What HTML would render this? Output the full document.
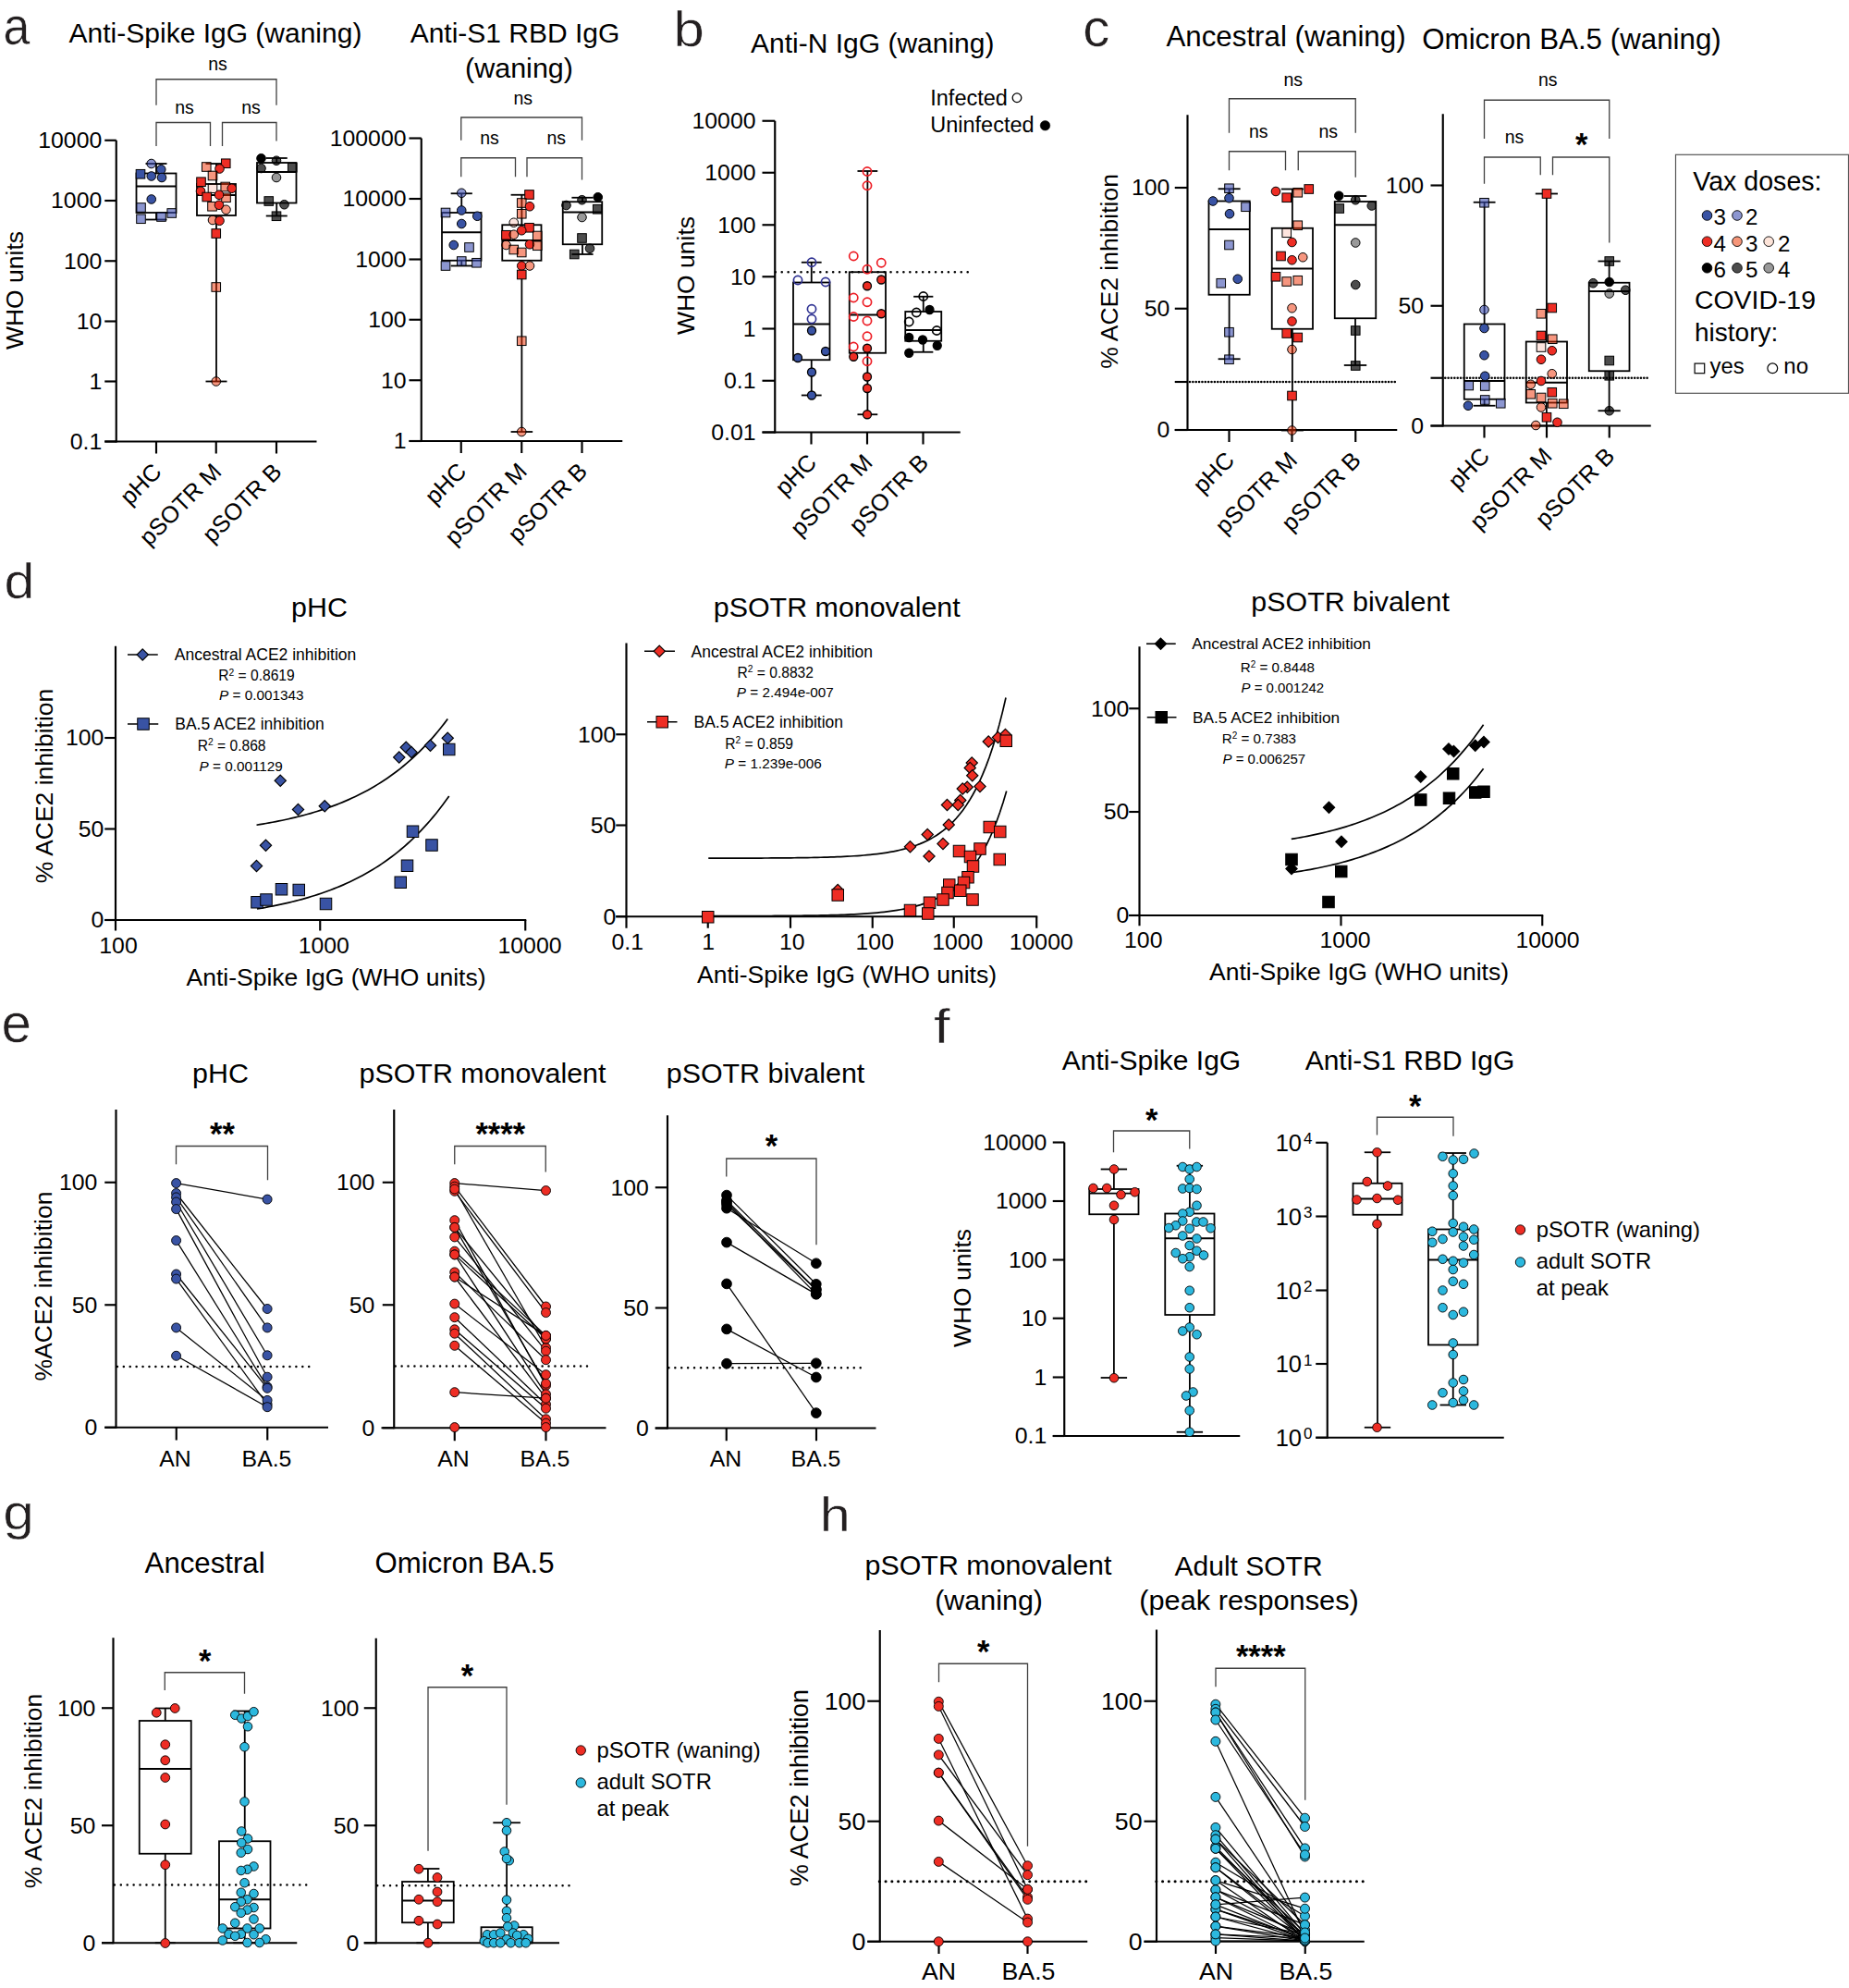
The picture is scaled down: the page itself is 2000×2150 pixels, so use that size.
<!DOCTYPE html>
<html><head><meta charset="utf-8"><title>Figure</title>
<style>
html,body{margin:0;padding:0;background:#fff;}
svg{display:block;}
text{font-family:"Liberation Sans",Arial,Helvetica,sans-serif;fill:#000;}
</style></head><body>
<svg width="2000" height="2150" viewBox="0 0 2000 2150">
<rect x="0" y="0" width="2000" height="2150" fill="#fff"/>
<text transform="translate(3.4 48) scale(0.95 1.04)" font-size="54.5" stroke="#fff" stroke-width="0.5" style="fill:#231f20">a</text>
<text transform="translate(728.6 50.2) scale(1.1 0.97)" font-size="54.5" stroke="#fff" stroke-width="0.5" style="fill:#231f20">b</text>
<text transform="translate(1171.2 49.6) scale(1.07 1.04)" font-size="54.5" stroke="#fff" stroke-width="0.5" style="fill:#231f20">c</text>
<text transform="translate(4.4 646.6) scale(1.08 0.99)" font-size="54.5" stroke="#fff" stroke-width="0.5" style="fill:#231f20">d</text>
<text transform="translate(1.5 1127.1) scale(1.07 1.07)" font-size="54.5" stroke="#fff" stroke-width="0.5" style="fill:#231f20">e</text>
<text transform="translate(1010 1127.6) scale(1.17 0.96)" font-size="54.5" stroke="#fff" stroke-width="0.5" style="fill:#231f20">f</text>
<text transform="translate(3.2 1654.3) scale(1.11 0.97)" font-size="54.5" stroke="#fff" stroke-width="0.5" style="fill:#231f20">g</text>
<text transform="translate(886.8 1656.4) scale(1.09 0.96)" font-size="54.5" stroke="#fff" stroke-width="0.5" style="fill:#231f20">h</text>
<text x="233" y="45.75" text-anchor="middle" font-size="30">Anti-Spike IgG (waning)</text>
<line x1="125.75" y1="151.75" x2="125.75" y2="478.57" stroke="#000" stroke-width="2.15"/>
<line x1="113.25" y1="151.75" x2="125.75" y2="151.75" stroke="#000" stroke-width="2.15"/>
<text x="110.25" y="160.06" text-anchor="end" font-size="24.8">10000</text>
<line x1="113.25" y1="217" x2="125.75" y2="217" stroke="#000" stroke-width="2.15"/>
<text x="110.25" y="225.31" text-anchor="end" font-size="24.8">1000</text>
<line x1="113.25" y1="282.25" x2="125.75" y2="282.25" stroke="#000" stroke-width="2.15"/>
<text x="110.25" y="290.56" text-anchor="end" font-size="24.8">100</text>
<line x1="113.25" y1="347.5" x2="125.75" y2="347.5" stroke="#000" stroke-width="2.15"/>
<text x="110.25" y="355.81" text-anchor="end" font-size="24.8">10</text>
<line x1="113.25" y1="412.5" x2="125.75" y2="412.5" stroke="#000" stroke-width="2.15"/>
<text x="110.25" y="420.81" text-anchor="end" font-size="24.8">1</text>
<line x1="113.25" y1="477.5" x2="125.75" y2="477.5" stroke="#000" stroke-width="2.15"/>
<text x="110.25" y="485.81" text-anchor="end" font-size="24.8">0.1</text>
<line x1="113.25" y1="477.5" x2="342.5" y2="477.5" stroke="#000" stroke-width="2.15"/>
<line x1="169" y1="477.5" x2="169" y2="490.5" stroke="#000" stroke-width="2.15"/>
<line x1="233.75" y1="477.5" x2="233.75" y2="490.5" stroke="#000" stroke-width="2.15"/>
<line x1="299" y1="477.5" x2="299" y2="490.5" stroke="#000" stroke-width="2.15"/>
<text text-anchor="end" transform="translate(176.3 511.7) rotate(-45)" font-size="25.4">pHC</text>
<text text-anchor="end" transform="translate(241.05 511.7) rotate(-45)" font-size="25.4">pSOTR M</text>
<text text-anchor="end" transform="translate(306.3 511.7) rotate(-45)" font-size="25.4">pSOTR B</text>
<text text-anchor="middle" transform="translate(24.5 314) rotate(-90)" font-size="26.5">WHO units</text>
<path d="M169 113.75V85.75H299V113.75" fill="none" stroke="#404040" stroke-width="1.3"/>
<text x="235.5" y="75.8" text-anchor="middle" font-size="19.5">ns</text>
<path d="M169 158V132.5H227.5V158" fill="none" stroke="#404040" stroke-width="1.3"/>
<text x="199.5" y="122.55" text-anchor="middle" font-size="19.5">ns</text>
<path d="M240.5 158V132.5H299V152.5" fill="none" stroke="#404040" stroke-width="1.3"/>
<text x="271.5" y="122.55" text-anchor="middle" font-size="19.5">ns</text>
<line x1="169" y1="177" x2="169" y2="187.5" stroke="#000" stroke-width="1.8"/>
<line x1="169" y1="230" x2="169" y2="237.5" stroke="#000" stroke-width="1.8"/>
<line x1="157.5" y1="177" x2="180.5" y2="177" stroke="#000" stroke-width="1.8"/>
<line x1="157.5" y1="237.5" x2="180.5" y2="237.5" stroke="#000" stroke-width="1.8"/>
<rect x="147.5" y="187.5" width="43" height="42.5" fill="none" stroke="#000" stroke-width="1.8"/>
<line x1="147.5" y1="201.5" x2="190.5" y2="201.5" stroke="#000" stroke-width="1.8"/>
<line x1="234" y1="177" x2="234" y2="199" stroke="#000" stroke-width="1.8"/>
<line x1="234" y1="233" x2="234" y2="412.5" stroke="#000" stroke-width="1.8"/>
<line x1="222.5" y1="177" x2="245.5" y2="177" stroke="#000" stroke-width="1.8"/>
<line x1="222.5" y1="412.5" x2="245.5" y2="412.5" stroke="#000" stroke-width="1.8"/>
<rect x="213" y="199" width="42" height="34" fill="none" stroke="#000" stroke-width="1.8"/>
<line x1="213" y1="211" x2="255" y2="211" stroke="#000" stroke-width="1.8"/>
<line x1="299.25" y1="171" x2="299.25" y2="176" stroke="#000" stroke-width="1.8"/>
<line x1="299.25" y1="219.5" x2="299.25" y2="233.5" stroke="#000" stroke-width="1.8"/>
<line x1="287.75" y1="171" x2="310.75" y2="171" stroke="#000" stroke-width="1.8"/>
<line x1="287.75" y1="233.5" x2="310.75" y2="233.5" stroke="#000" stroke-width="1.8"/>
<rect x="278" y="176" width="42.5" height="43.5" fill="none" stroke="#000" stroke-width="1.8"/>
<line x1="278" y1="186" x2="320.5" y2="186" stroke="#000" stroke-width="1.8"/>
<circle cx="163.75" cy="177" r="4.8" fill="#394aae" fill-opacity="0.58" stroke="#000" stroke-width="1"/>
<circle cx="174.25" cy="183.25" r="4.8" fill="#3953a4" fill-opacity="1" stroke="#000" stroke-width="1"/>
<rect x="147.2" y="183.45" width="9.6" height="9.6" fill="#3953a4" fill-opacity="1" stroke="#000" stroke-width="1"/>
<circle cx="163.75" cy="190.5" r="4.8" fill="#3953a4" fill-opacity="1" stroke="#000" stroke-width="1"/>
<circle cx="175" cy="192" r="4.8" fill="#3953a4" fill-opacity="1" stroke="#000" stroke-width="1"/>
<circle cx="163.75" cy="215.5" r="4.8" fill="#3953a4" fill-opacity="1" stroke="#000" stroke-width="1"/>
<rect x="147.7" y="219.7" width="9.6" height="9.6" fill="#394aae" fill-opacity="0.58" stroke="#000" stroke-width="1"/>
<rect x="180.95" y="225.7" width="9.6" height="9.6" fill="#394aae" fill-opacity="0.58" stroke="#000" stroke-width="1"/>
<rect x="147.7" y="231.95" width="9.6" height="9.6" fill="#394aae" fill-opacity="0.58" stroke="#000" stroke-width="1"/>
<rect x="169.7" y="229.7" width="9.6" height="9.6" fill="#394aae" fill-opacity="0.58" stroke="#000" stroke-width="1"/>
<rect x="218.45" y="175.7" width="9.6" height="9.6" fill="#ed2d00" fill-opacity="0.5" stroke="#000" stroke-width="1"/>
<rect x="239.45" y="171.95" width="9.6" height="9.6" fill="#ee2d24" fill-opacity="1" stroke="#000" stroke-width="1"/>
<circle cx="237.5" cy="182.5" r="4.8" fill="#ee2d24" fill-opacity="1" stroke="#000" stroke-width="1"/>
<rect x="225.2" y="185.2" width="9.6" height="9.6" fill="#ed2d00" fill-opacity="0.5" stroke="#000" stroke-width="1"/>
<rect x="212.7" y="191.95" width="9.6" height="9.6" fill="#ee2d24" fill-opacity="1" stroke="#000" stroke-width="1"/>
<rect x="238.95" y="197.2" width="9.6" height="9.6" fill="#ed2d00" fill-opacity="0.5" stroke="#000" stroke-width="1"/>
<rect x="225.2" y="198.95" width="9.6" height="9.6" fill="#f02f00" fill-opacity="0.13" stroke="#000" stroke-width="1"/>
<circle cx="250.75" cy="203.75" r="4.8" fill="#ee2d24" fill-opacity="1" stroke="#000" stroke-width="1"/>
<circle cx="217" cy="206.75" r="4.8" fill="#ee2d24" fill-opacity="1" stroke="#000" stroke-width="1"/>
<rect x="239.7" y="208.95" width="9.6" height="9.6" fill="#ed2d00" fill-opacity="0.5" stroke="#000" stroke-width="1"/>
<circle cx="237" cy="210.75" r="4.8" fill="#ee2d24" fill-opacity="1" stroke="#000" stroke-width="1"/>
<rect x="218.95" y="208.2" width="9.6" height="9.6" fill="#ee2d24" fill-opacity="1" stroke="#000" stroke-width="1"/>
<rect x="224.7" y="218.45" width="9.6" height="9.6" fill="#ed2d00" fill-opacity="0.5" stroke="#000" stroke-width="1"/>
<circle cx="237" cy="221.75" r="4.8" fill="#ee2d24" fill-opacity="1" stroke="#000" stroke-width="1"/>
<circle cx="244.5" cy="226.75" r="4.8" fill="#ed2d00" fill-opacity="0.5" stroke="#000" stroke-width="1"/>
<circle cx="230" cy="238" r="4.8" fill="#ed2d00" fill-opacity="0.5" stroke="#000" stroke-width="1"/>
<circle cx="237.5" cy="238.75" r="4.8" fill="#ee2d24" fill-opacity="1" stroke="#000" stroke-width="1"/>
<rect x="228.95" y="247.7" width="9.6" height="9.6" fill="#ee2d24" fill-opacity="1" stroke="#000" stroke-width="1"/>
<rect x="228.95" y="305.7" width="9.6" height="9.6" fill="#ed2d00" fill-opacity="0.5" stroke="#000" stroke-width="1"/>
<circle cx="233.75" cy="412.5" r="4.8" fill="#ed2d00" fill-opacity="0.5" stroke="#000" stroke-width="1"/>
<circle cx="282.5" cy="171.25" r="4.8" fill="#000000" fill-opacity="1" stroke="#000" stroke-width="1"/>
<circle cx="299" cy="173.75" r="4.8" fill="#010101" fill-opacity="0.7" stroke="#000" stroke-width="1"/>
<circle cx="282.5" cy="182" r="4.8" fill="#010101" fill-opacity="0.7" stroke="#000" stroke-width="1"/>
<rect x="311.45" y="176.45" width="9.6" height="9.6" fill="#010101" fill-opacity="0.7" stroke="#000" stroke-width="1"/>
<circle cx="299" cy="192" r="4.8" fill="#000000" fill-opacity="0.4" stroke="#000" stroke-width="1"/>
<rect x="285.95" y="212.7" width="9.6" height="9.6" fill="#010101" fill-opacity="0.7" stroke="#000" stroke-width="1"/>
<circle cx="307.5" cy="221.25" r="4.8" fill="#010101" fill-opacity="0.7" stroke="#000" stroke-width="1"/>
<rect x="294.2" y="228.95" width="9.6" height="9.6" fill="#010101" fill-opacity="0.7" stroke="#000" stroke-width="1"/>
<text x="557" y="45.75" text-anchor="middle" font-size="30">Anti-S1 RBD IgG</text>
<text x="561.5" y="83.75" text-anchor="middle" textLength="117" lengthAdjust="spacingAndGlyphs" font-size="30">(waning)</text>
<line x1="455.75" y1="149.5" x2="455.75" y2="478.07" stroke="#000" stroke-width="2.15"/>
<line x1="442.5" y1="149.5" x2="455.75" y2="149.5" stroke="#000" stroke-width="2.15"/>
<text x="439.5" y="157.81" text-anchor="end" font-size="24.8">100000</text>
<line x1="442.5" y1="215" x2="455.75" y2="215" stroke="#000" stroke-width="2.15"/>
<text x="439.5" y="223.31" text-anchor="end" font-size="24.8">10000</text>
<line x1="442.5" y1="280.5" x2="455.75" y2="280.5" stroke="#000" stroke-width="2.15"/>
<text x="439.5" y="288.81" text-anchor="end" font-size="24.8">1000</text>
<line x1="442.5" y1="345.75" x2="455.75" y2="345.75" stroke="#000" stroke-width="2.15"/>
<text x="439.5" y="354.06" text-anchor="end" font-size="24.8">100</text>
<line x1="442.5" y1="411.25" x2="455.75" y2="411.25" stroke="#000" stroke-width="2.15"/>
<text x="439.5" y="419.56" text-anchor="end" font-size="24.8">10</text>
<line x1="442.5" y1="477" x2="455.75" y2="477" stroke="#000" stroke-width="2.15"/>
<text x="439.5" y="485.31" text-anchor="end" font-size="24.8">1</text>
<line x1="442.5" y1="477" x2="673.25" y2="477" stroke="#000" stroke-width="2.15"/>
<line x1="498.75" y1="477" x2="498.75" y2="490" stroke="#000" stroke-width="2.15"/>
<line x1="564.25" y1="477" x2="564.25" y2="490" stroke="#000" stroke-width="2.15"/>
<line x1="629.5" y1="477" x2="629.5" y2="490" stroke="#000" stroke-width="2.15"/>
<text text-anchor="end" transform="translate(506.05 511.2) rotate(-45)" font-size="25.4">pHC</text>
<text text-anchor="end" transform="translate(571.55 511.2) rotate(-45)" font-size="25.4">pSOTR M</text>
<text text-anchor="end" transform="translate(636.8 511.2) rotate(-45)" font-size="25.4">pSOTR B</text>
<path d="M498.75 151.75V127H629.5V151.75" fill="none" stroke="#404040" stroke-width="1.3"/>
<text x="565.75" y="113.3" text-anchor="middle" font-size="19.5">ns</text>
<path d="M498.75 191.25V170.75H557.5V191.25" fill="none" stroke="#404040" stroke-width="1.3"/>
<text x="529.5" y="156.3" text-anchor="middle" font-size="19.5">ns</text>
<path d="M570 191.25V170.75H629.5V194.5" fill="none" stroke="#404040" stroke-width="1.3"/>
<text x="601.75" y="156.3" text-anchor="middle" font-size="19.5">ns</text>
<line x1="499.25" y1="209.25" x2="499.25" y2="230" stroke="#000" stroke-width="1.8"/>
<line x1="499.25" y1="281.75" x2="499.25" y2="287.5" stroke="#000" stroke-width="1.8"/>
<line x1="487.65" y1="209.25" x2="510.85" y2="209.25" stroke="#000" stroke-width="1.8"/>
<line x1="487.65" y1="287.5" x2="510.85" y2="287.5" stroke="#000" stroke-width="1.8"/>
<rect x="478" y="230" width="42.5" height="51.75" fill="none" stroke="#000" stroke-width="1.8"/>
<line x1="478" y1="251.25" x2="520.5" y2="251.25" stroke="#000" stroke-width="1.8"/>
<line x1="564.38" y1="210.75" x2="564.38" y2="243.25" stroke="#000" stroke-width="1.8"/>
<line x1="564.38" y1="281.75" x2="564.38" y2="467" stroke="#000" stroke-width="1.8"/>
<line x1="552.58" y1="210.75" x2="576.17" y2="210.75" stroke="#000" stroke-width="1.8"/>
<line x1="552.58" y1="467" x2="576.17" y2="467" stroke="#000" stroke-width="1.8"/>
<rect x="543.25" y="243.25" width="42.25" height="38.5" fill="none" stroke="#000" stroke-width="1.8"/>
<line x1="543.25" y1="260" x2="585.5" y2="260" stroke="#000" stroke-width="1.8"/>
<line x1="630" y1="213.75" x2="630" y2="218.25" stroke="#000" stroke-width="1.8"/>
<line x1="630" y1="264.25" x2="630" y2="275" stroke="#000" stroke-width="1.8"/>
<line x1="618.4" y1="213.75" x2="641.6" y2="213.75" stroke="#000" stroke-width="1.8"/>
<line x1="618.4" y1="275" x2="641.6" y2="275" stroke="#000" stroke-width="1.8"/>
<rect x="608.75" y="218.25" width="42.5" height="46" fill="none" stroke="#000" stroke-width="1.8"/>
<line x1="608.75" y1="229.5" x2="651.25" y2="229.5" stroke="#000" stroke-width="1.8"/>
<circle cx="499.25" cy="208.75" r="4.8" fill="#394aae" fill-opacity="0.58" stroke="#000" stroke-width="1"/>
<rect x="477.2" y="225.2" width="9.6" height="9.6" fill="#394aae" fill-opacity="0.58" stroke="#000" stroke-width="1"/>
<circle cx="499.25" cy="227.5" r="4.8" fill="#3953a4" fill-opacity="1" stroke="#000" stroke-width="1"/>
<circle cx="516.25" cy="233.75" r="4.8" fill="#3953a4" fill-opacity="1" stroke="#000" stroke-width="1"/>
<circle cx="499.25" cy="242" r="4.8" fill="#3953a4" fill-opacity="1" stroke="#000" stroke-width="1"/>
<circle cx="490.75" cy="265" r="4.8" fill="#3953a4" fill-opacity="1" stroke="#000" stroke-width="1"/>
<rect x="502.7" y="262.7" width="9.6" height="9.6" fill="#394aae" fill-opacity="0.58" stroke="#000" stroke-width="1"/>
<rect x="494.45" y="277.7" width="9.6" height="9.6" fill="#394aae" fill-opacity="0.58" stroke="#000" stroke-width="1"/>
<rect x="510.7" y="279.45" width="9.6" height="9.6" fill="#394aae" fill-opacity="0.58" stroke="#000" stroke-width="1"/>
<rect x="477.2" y="282.7" width="9.6" height="9.6" fill="#394aae" fill-opacity="0.58" stroke="#000" stroke-width="1"/>
<rect x="567.7" y="205.7" width="9.6" height="9.6" fill="#ee2d24" fill-opacity="1" stroke="#000" stroke-width="1"/>
<rect x="559.45" y="214.7" width="9.6" height="9.6" fill="#ed2d00" fill-opacity="0.5" stroke="#000" stroke-width="1"/>
<circle cx="573" cy="223.25" r="4.8" fill="#ee2d24" fill-opacity="1" stroke="#000" stroke-width="1"/>
<rect x="559.45" y="226.45" width="9.6" height="9.6" fill="#ed2d00" fill-opacity="0.5" stroke="#000" stroke-width="1"/>
<circle cx="555.75" cy="240.75" r="4.8" fill="#f02f00" fill-opacity="0.13" stroke="#000" stroke-width="1"/>
<rect x="567.7" y="241.45" width="9.6" height="9.6" fill="#ee2d24" fill-opacity="1" stroke="#000" stroke-width="1"/>
<circle cx="564.25" cy="249.25" r="4.8" fill="#ee2d24" fill-opacity="1" stroke="#000" stroke-width="1"/>
<rect x="542.7" y="249.45" width="9.6" height="9.6" fill="#ee2d24" fill-opacity="1" stroke="#000" stroke-width="1"/>
<circle cx="555.75" cy="253.75" r="4.8" fill="#ed2d00" fill-opacity="0.5" stroke="#000" stroke-width="1"/>
<rect x="576.45" y="250.2" width="9.6" height="9.6" fill="#ed2d00" fill-opacity="0.5" stroke="#000" stroke-width="1"/>
<circle cx="547.5" cy="265" r="4.8" fill="#ed2d00" fill-opacity="0.5" stroke="#000" stroke-width="1"/>
<circle cx="573" cy="264.25" r="4.8" fill="#ee2d24" fill-opacity="1" stroke="#000" stroke-width="1"/>
<rect x="576.45" y="260.95" width="9.6" height="9.6" fill="#ed2d00" fill-opacity="0.5" stroke="#000" stroke-width="1"/>
<rect x="550.95" y="265.2" width="9.6" height="9.6" fill="#ed2d00" fill-opacity="0.5" stroke="#000" stroke-width="1"/>
<rect x="559.45" y="268.2" width="9.6" height="9.6" fill="#ed2d00" fill-opacity="0.5" stroke="#000" stroke-width="1"/>
<circle cx="564.25" cy="287.5" r="4.8" fill="#ee2d24" fill-opacity="1" stroke="#000" stroke-width="1"/>
<circle cx="573" cy="287.5" r="4.8" fill="#ed2d00" fill-opacity="0.5" stroke="#000" stroke-width="1"/>
<rect x="559.45" y="292.2" width="9.6" height="9.6" fill="#ee2d24" fill-opacity="1" stroke="#000" stroke-width="1"/>
<rect x="559.45" y="363.95" width="9.6" height="9.6" fill="#ed2d00" fill-opacity="0.5" stroke="#000" stroke-width="1"/>
<circle cx="564.25" cy="467" r="4.8" fill="#ed2d00" fill-opacity="0.5" stroke="#000" stroke-width="1"/>
<circle cx="646.75" cy="213.25" r="4.8" fill="#000000" fill-opacity="1" stroke="#000" stroke-width="1"/>
<circle cx="629.5" cy="216.25" r="4.8" fill="#010101" fill-opacity="0.7" stroke="#000" stroke-width="1"/>
<circle cx="612.5" cy="222" r="4.8" fill="#010101" fill-opacity="0.7" stroke="#000" stroke-width="1"/>
<rect x="641.45" y="221.45" width="9.6" height="9.6" fill="#010101" fill-opacity="0.7" stroke="#000" stroke-width="1"/>
<circle cx="629.5" cy="235" r="4.8" fill="#000000" fill-opacity="0.4" stroke="#000" stroke-width="1"/>
<rect x="624.7" y="252.7" width="9.6" height="9.6" fill="#010101" fill-opacity="0.7" stroke="#000" stroke-width="1"/>
<circle cx="638" cy="268.75" r="4.8" fill="#010101" fill-opacity="0.7" stroke="#000" stroke-width="1"/>
<rect x="616.45" y="270.2" width="9.6" height="9.6" fill="#010101" fill-opacity="0.7" stroke="#000" stroke-width="1"/>
<text x="943.75" y="57" text-anchor="middle" font-size="30">Anti-N IgG (waning)</text>
<line x1="838.25" y1="130.75" x2="838.25" y2="468.57" stroke="#000" stroke-width="2.15"/>
<line x1="824.5" y1="130.75" x2="838.25" y2="130.75" stroke="#000" stroke-width="2.15"/>
<text x="817.5" y="139.06" text-anchor="end" font-size="24.8">10000</text>
<line x1="824.5" y1="186.75" x2="838.25" y2="186.75" stroke="#000" stroke-width="2.15"/>
<text x="817.5" y="195.06" text-anchor="end" font-size="24.8">1000</text>
<line x1="824.5" y1="243.25" x2="838.25" y2="243.25" stroke="#000" stroke-width="2.15"/>
<text x="817.5" y="251.56" text-anchor="end" font-size="24.8">100</text>
<line x1="824.5" y1="299.25" x2="838.25" y2="299.25" stroke="#000" stroke-width="2.15"/>
<text x="817.5" y="307.56" text-anchor="end" font-size="24.8">10</text>
<line x1="824.5" y1="355.5" x2="838.25" y2="355.5" stroke="#000" stroke-width="2.15"/>
<text x="817.5" y="363.81" text-anchor="end" font-size="24.8">1</text>
<line x1="824.5" y1="411.75" x2="838.25" y2="411.75" stroke="#000" stroke-width="2.15"/>
<text x="817.5" y="420.06" text-anchor="end" font-size="24.8">0.1</text>
<line x1="824.5" y1="467.5" x2="838.25" y2="467.5" stroke="#000" stroke-width="2.15"/>
<text x="817.5" y="475.81" text-anchor="end" font-size="24.8">0.01</text>
<line x1="824.5" y1="467.5" x2="1038.75" y2="467.5" stroke="#000" stroke-width="2.15"/>
<line x1="877.5" y1="467.5" x2="877.5" y2="480.5" stroke="#000" stroke-width="2.15"/>
<line x1="938" y1="467.5" x2="938" y2="480.5" stroke="#000" stroke-width="2.15"/>
<line x1="998.5" y1="467.5" x2="998.5" y2="480.5" stroke="#000" stroke-width="2.15"/>
<text text-anchor="end" transform="translate(884.8 501.7) rotate(-45)" font-size="25.4">pHC</text>
<text text-anchor="end" transform="translate(945.3 501.7) rotate(-45)" font-size="25.4">pSOTR M</text>
<text text-anchor="end" transform="translate(1005.8 501.7) rotate(-45)" font-size="25.4">pSOTR B</text>
<text text-anchor="middle" transform="translate(750.5 298) rotate(-90)" font-size="26.5">WHO units</text>
<line x1="838.8" y1="294.25" x2="1047" y2="294.25" stroke="#000" stroke-width="2.6" stroke-linecap="round" stroke-dasharray="0.01 6.92"/>
<text x="1006.25" y="113.75" font-size="23.5">Infected</text>
<circle cx="1100" cy="105.75" r="4.8" fill="#fff" stroke="#000" stroke-width="1.3"/>
<text x="1006.25" y="142.5" font-size="23.5">Uninfected</text>
<circle cx="1130.5" cy="135.75" r="5.3" fill="#000" stroke="#000" stroke-width="0.5"/>
<line x1="877.75" y1="283.75" x2="877.75" y2="305.5" stroke="#000" stroke-width="1.8"/>
<line x1="877.75" y1="389.25" x2="877.75" y2="427.5" stroke="#000" stroke-width="1.8"/>
<line x1="866.85" y1="283.75" x2="888.65" y2="283.75" stroke="#000" stroke-width="1.8"/>
<line x1="866.85" y1="427.5" x2="888.65" y2="427.5" stroke="#000" stroke-width="1.8"/>
<rect x="858" y="305.5" width="39.5" height="83.75" fill="none" stroke="#000" stroke-width="1.8"/>
<line x1="858" y1="350.5" x2="897.5" y2="350.5" stroke="#000" stroke-width="1.8"/>
<line x1="938.38" y1="185" x2="938.38" y2="294.25" stroke="#000" stroke-width="1.8"/>
<line x1="938.38" y1="381.75" x2="938.38" y2="448.25" stroke="#000" stroke-width="1.8"/>
<line x1="927.48" y1="185" x2="949.27" y2="185" stroke="#000" stroke-width="1.8"/>
<line x1="927.48" y1="448.25" x2="949.27" y2="448.25" stroke="#000" stroke-width="1.8"/>
<rect x="918.75" y="294.25" width="39.25" height="87.5" fill="none" stroke="#000" stroke-width="1.8"/>
<line x1="918.75" y1="340.5" x2="958" y2="340.5" stroke="#000" stroke-width="1.8"/>
<line x1="998.75" y1="320.75" x2="998.75" y2="337" stroke="#000" stroke-width="1.8"/>
<line x1="998.75" y1="368.75" x2="998.75" y2="380.75" stroke="#000" stroke-width="1.8"/>
<line x1="988.15" y1="320.75" x2="1009.35" y2="320.75" stroke="#000" stroke-width="1.8"/>
<line x1="988.15" y1="380.75" x2="1009.35" y2="380.75" stroke="#000" stroke-width="1.8"/>
<rect x="979.25" y="337" width="39" height="31.75" fill="none" stroke="#000" stroke-width="1.8"/>
<line x1="979.25" y1="357" x2="1018.25" y2="357" stroke="#000" stroke-width="1.8"/>
<circle cx="878" cy="283.75" r="4.6" fill="none" stroke="#2e3192" stroke-width="1.7"/>
<circle cx="863" cy="303" r="4.6" fill="none" stroke="#2e3192" stroke-width="1.7"/>
<circle cx="893" cy="305" r="4.6" fill="none" stroke="#2e3192" stroke-width="1.7"/>
<circle cx="878" cy="334.25" r="4.6" fill="none" stroke="#2e3192" stroke-width="1.7"/>
<circle cx="878" cy="345" r="4.6" fill="none" stroke="#2e3192" stroke-width="1.7"/>
<circle cx="878" cy="357.5" r="4.5" fill="#3953a4" stroke="#000" stroke-width="1.3"/>
<circle cx="893" cy="380" r="4.5" fill="#3953a4" stroke="#000" stroke-width="1.3"/>
<circle cx="863" cy="387" r="4.5" fill="#3953a4" stroke="#000" stroke-width="1.3"/>
<circle cx="878" cy="402.5" r="4.5" fill="#3953a4" stroke="#000" stroke-width="1.3"/>
<circle cx="878" cy="427.5" r="4.5" fill="#3953a4" stroke="#000" stroke-width="1.3"/>
<circle cx="938" cy="185.5" r="4.6" fill="none" stroke="#ed1c24" stroke-width="1.7"/>
<circle cx="938" cy="200.75" r="4.6" fill="none" stroke="#ed1c24" stroke-width="1.7"/>
<circle cx="923.25" cy="277" r="4.6" fill="none" stroke="#ed1c24" stroke-width="1.7"/>
<circle cx="953.25" cy="284.25" r="4.6" fill="none" stroke="#ed1c24" stroke-width="1.7"/>
<circle cx="938" cy="291.25" r="4.6" fill="none" stroke="#ed1c24" stroke-width="1.7"/>
<circle cx="953.25" cy="302.5" r="4.5" fill="#ee2d24" stroke="#000" stroke-width="1.3"/>
<circle cx="938" cy="309.25" r="4.5" fill="#ee2d24" stroke="#000" stroke-width="1.3"/>
<circle cx="923.25" cy="322" r="4.6" fill="none" stroke="#ed1c24" stroke-width="1.7"/>
<circle cx="938" cy="326.75" r="4.6" fill="none" stroke="#ed1c24" stroke-width="1.7"/>
<circle cx="953.25" cy="339.25" r="4.5" fill="#ee2d24" stroke="#000" stroke-width="1.3"/>
<circle cx="923.25" cy="342.5" r="4.6" fill="none" stroke="#ed1c24" stroke-width="1.7"/>
<circle cx="938" cy="347" r="4.6" fill="none" stroke="#ed1c24" stroke-width="1.7"/>
<circle cx="938" cy="363.75" r="4.6" fill="none" stroke="#ed1c24" stroke-width="1.7"/>
<circle cx="923.25" cy="375" r="4.6" fill="none" stroke="#ed1c24" stroke-width="1.7"/>
<circle cx="938" cy="376.75" r="4.5" fill="#ee2d24" stroke="#000" stroke-width="1.3"/>
<circle cx="923.25" cy="385.75" r="4.5" fill="#ee2d24" stroke="#000" stroke-width="1.3"/>
<circle cx="938" cy="390.75" r="4.6" fill="none" stroke="#ed1c24" stroke-width="1.7"/>
<circle cx="938" cy="407.5" r="4.5" fill="#ee2d24" stroke="#000" stroke-width="1.3"/>
<circle cx="938" cy="420" r="4.5" fill="#ee2d24" stroke="#000" stroke-width="1.3"/>
<circle cx="938" cy="448.25" r="4.5" fill="#ee2d24" stroke="#000" stroke-width="1.3"/>
<circle cx="998.75" cy="320.5" r="4.6" fill="none" stroke="#000000" stroke-width="1.7"/>
<circle cx="1005.5" cy="335" r="4.5" fill="#000000" stroke="#000" stroke-width="1.3"/>
<circle cx="991.25" cy="338" r="4.6" fill="none" stroke="#000000" stroke-width="1.7"/>
<circle cx="983.25" cy="348" r="4.6" fill="none" stroke="#000000" stroke-width="1.7"/>
<circle cx="1013.25" cy="357.5" r="4.6" fill="none" stroke="#000000" stroke-width="1.7"/>
<circle cx="983.25" cy="365" r="4.5" fill="#000000" stroke="#000" stroke-width="1.3"/>
<circle cx="998" cy="367.5" r="4.5" fill="#000000" stroke="#000" stroke-width="1.3"/>
<circle cx="1013.75" cy="373.75" r="4.5" fill="#000000" stroke="#000" stroke-width="1.3"/>
<circle cx="983.25" cy="381.75" r="4.5" fill="#000000" stroke="#000" stroke-width="1.3"/>
<text x="1391" y="50" text-anchor="middle" font-size="31.3">Ancestral (waning)</text>
<line x1="1284.5" y1="124.25" x2="1284.5" y2="466.07" stroke="#000" stroke-width="2.15"/>
<line x1="1270.75" y1="203" x2="1284.5" y2="203" stroke="#000" stroke-width="2.15"/>
<text x="1265.25" y="211.31" text-anchor="end" font-size="24.8">100</text>
<line x1="1270.75" y1="333.75" x2="1284.5" y2="333.75" stroke="#000" stroke-width="2.15"/>
<text x="1265.25" y="342.06" text-anchor="end" font-size="24.8">50</text>
<line x1="1270.75" y1="465" x2="1284.5" y2="465" stroke="#000" stroke-width="2.15"/>
<text x="1265.25" y="473.31" text-anchor="end" font-size="24.8">0</text>
<line x1="1270.75" y1="413" x2="1284.5" y2="413" stroke="#000" stroke-width="2.15"/>
<line x1="1270.75" y1="465" x2="1511.25" y2="465" stroke="#000" stroke-width="2.15"/>
<line x1="1329.5" y1="465" x2="1329.5" y2="478" stroke="#000" stroke-width="2.15"/>
<line x1="1397.5" y1="465" x2="1397.5" y2="478" stroke="#000" stroke-width="2.15"/>
<line x1="1466.25" y1="465" x2="1466.25" y2="478" stroke="#000" stroke-width="2.15"/>
<text text-anchor="end" transform="translate(1336.8 499.2) rotate(-45)" font-size="25.4">pHC</text>
<text text-anchor="end" transform="translate(1404.8 499.2) rotate(-45)" font-size="25.4">pSOTR M</text>
<text text-anchor="end" transform="translate(1473.55 499.2) rotate(-45)" font-size="25.4">pSOTR B</text>
<text text-anchor="middle" transform="translate(1209 293.4) rotate(-90)" font-size="26.5">% ACE2 inhibition</text>
<line x1="1287" y1="413" x2="1510.5" y2="413" stroke="#000" stroke-width="2.6" stroke-linecap="round" stroke-dasharray="0.01 3.35"/>
<path d="M1329.5 143.75V106.75H1466.25V143.75" fill="none" stroke="#404040" stroke-width="1.3"/>
<text x="1398.75" y="92.55" text-anchor="middle" font-size="19.5">ns</text>
<path d="M1329.5 184.25V163.75H1390.5V184.25" fill="none" stroke="#404040" stroke-width="1.3"/>
<text x="1361.25" y="148.8" text-anchor="middle" font-size="19.5">ns</text>
<path d="M1404.25 184.25V163.75H1466.25V191.75" fill="none" stroke="#404040" stroke-width="1.3"/>
<text x="1436.75" y="148.8" text-anchor="middle" font-size="19.5">ns</text>
<line x1="1329.62" y1="204.25" x2="1329.62" y2="217.5" stroke="#000" stroke-width="1.8"/>
<line x1="1329.62" y1="318.75" x2="1329.62" y2="388.25" stroke="#000" stroke-width="1.8"/>
<line x1="1317.62" y1="204.25" x2="1341.62" y2="204.25" stroke="#000" stroke-width="1.8"/>
<line x1="1317.62" y1="388.25" x2="1341.62" y2="388.25" stroke="#000" stroke-width="1.8"/>
<rect x="1307.5" y="217.5" width="44.25" height="101.25" fill="none" stroke="#000" stroke-width="1.8"/>
<line x1="1307.5" y1="248" x2="1351.75" y2="248" stroke="#000" stroke-width="1.8"/>
<line x1="1397.88" y1="204.5" x2="1397.88" y2="246.75" stroke="#000" stroke-width="1.8"/>
<line x1="1397.88" y1="355.75" x2="1397.88" y2="465.5" stroke="#000" stroke-width="1.8"/>
<line x1="1385.88" y1="204.5" x2="1409.88" y2="204.5" stroke="#000" stroke-width="1.8"/>
<line x1="1385.88" y1="465.5" x2="1409.88" y2="465.5" stroke="#000" stroke-width="1.8"/>
<rect x="1375.75" y="246.75" width="44.25" height="109" fill="none" stroke="#000" stroke-width="1.8"/>
<line x1="1375.75" y1="290.5" x2="1420" y2="290.5" stroke="#000" stroke-width="1.8"/>
<line x1="1466" y1="212" x2="1466" y2="218" stroke="#000" stroke-width="1.8"/>
<line x1="1466" y1="344.25" x2="1466" y2="395" stroke="#000" stroke-width="1.8"/>
<line x1="1453.8" y1="212" x2="1478.2" y2="212" stroke="#000" stroke-width="1.8"/>
<line x1="1453.8" y1="395" x2="1478.2" y2="395" stroke="#000" stroke-width="1.8"/>
<rect x="1443.75" y="218" width="44.5" height="126.25" fill="none" stroke="#000" stroke-width="1.8"/>
<line x1="1443.75" y1="243.25" x2="1488.25" y2="243.25" stroke="#000" stroke-width="1.8"/>
<rect x="1324.7" y="198.95" width="9.6" height="9.6" fill="#394aae" fill-opacity="0.58" stroke="#000" stroke-width="1"/>
<circle cx="1312" cy="217.5" r="4.8" fill="#3953a4" fill-opacity="1" stroke="#000" stroke-width="1"/>
<circle cx="1329.5" cy="214.25" r="4.8" fill="#3953a4" fill-opacity="1" stroke="#000" stroke-width="1"/>
<rect x="1342.7" y="218.95" width="9.6" height="9.6" fill="#394aae" fill-opacity="0.58" stroke="#000" stroke-width="1"/>
<circle cx="1330" cy="231.25" r="4.8" fill="#3953a4" fill-opacity="1" stroke="#000" stroke-width="1"/>
<rect x="1324.7" y="260.2" width="9.6" height="9.6" fill="#394aae" fill-opacity="0.58" stroke="#000" stroke-width="1"/>
<circle cx="1338.75" cy="301.75" r="4.8" fill="#3953a4" fill-opacity="1" stroke="#000" stroke-width="1"/>
<rect x="1315.95" y="301.45" width="9.6" height="9.6" fill="#394aae" fill-opacity="0.58" stroke="#000" stroke-width="1"/>
<rect x="1324.7" y="354.45" width="9.6" height="9.6" fill="#394aae" fill-opacity="0.58" stroke="#000" stroke-width="1"/>
<rect x="1324.7" y="383.95" width="9.6" height="9.6" fill="#394aae" fill-opacity="0.58" stroke="#000" stroke-width="1"/>
<circle cx="1380" cy="207" r="4.8" fill="#ee2d24" fill-opacity="1" stroke="#000" stroke-width="1"/>
<rect x="1410.95" y="199.7" width="9.6" height="9.6" fill="#ee2d24" fill-opacity="1" stroke="#000" stroke-width="1"/>
<rect x="1398.95" y="203.45" width="9.6" height="9.6" fill="#ed2d00" fill-opacity="0.5" stroke="#000" stroke-width="1"/>
<rect x="1386.95" y="208.95" width="9.6" height="9.6" fill="#ee2d24" fill-opacity="1" stroke="#000" stroke-width="1"/>
<rect x="1398.95" y="238.95" width="9.6" height="9.6" fill="#ed2d00" fill-opacity="0.5" stroke="#000" stroke-width="1"/>
<rect x="1386.95" y="246.95" width="9.6" height="9.6" fill="#f02f00" fill-opacity="0.13" stroke="#000" stroke-width="1"/>
<circle cx="1397.5" cy="262" r="4.8" fill="#ee2d24" fill-opacity="1" stroke="#000" stroke-width="1"/>
<rect x="1380.7" y="272.2" width="9.6" height="9.6" fill="#ee2d24" fill-opacity="1" stroke="#000" stroke-width="1"/>
<circle cx="1409.25" cy="278.25" r="4.8" fill="#ed2d00" fill-opacity="0.5" stroke="#000" stroke-width="1"/>
<circle cx="1397.5" cy="281.25" r="4.8" fill="#ee2d24" fill-opacity="1" stroke="#000" stroke-width="1"/>
<rect x="1375.2" y="294.45" width="9.6" height="9.6" fill="#ee2d24" fill-opacity="1" stroke="#000" stroke-width="1"/>
<rect x="1386.95" y="299.7" width="9.6" height="9.6" fill="#ed2d00" fill-opacity="0.5" stroke="#000" stroke-width="1"/>
<rect x="1398.95" y="298.45" width="9.6" height="9.6" fill="#ed2d00" fill-opacity="0.5" stroke="#000" stroke-width="1"/>
<circle cx="1397.5" cy="333.25" r="4.8" fill="#ed2d00" fill-opacity="0.5" stroke="#000" stroke-width="1"/>
<circle cx="1397.5" cy="347.5" r="4.8" fill="#ee2d24" fill-opacity="1" stroke="#000" stroke-width="1"/>
<rect x="1386.95" y="355.7" width="9.6" height="9.6" fill="#ee2d24" fill-opacity="1" stroke="#000" stroke-width="1"/>
<rect x="1398.95" y="360.2" width="9.6" height="9.6" fill="#ee2d24" fill-opacity="1" stroke="#000" stroke-width="1"/>
<circle cx="1397.5" cy="378" r="4.8" fill="#ed2d00" fill-opacity="0.5" stroke="#000" stroke-width="1"/>
<rect x="1392.7" y="423.2" width="9.6" height="9.6" fill="#ee2d24" fill-opacity="1" stroke="#000" stroke-width="1"/>
<circle cx="1397.5" cy="465.5" r="4.8" fill="#ed2d00" fill-opacity="0.5" stroke="#000" stroke-width="1"/>
<circle cx="1448.25" cy="211.75" r="4.8" fill="#000000" fill-opacity="1" stroke="#000" stroke-width="1"/>
<circle cx="1466.25" cy="216.25" r="4.8" fill="#010101" fill-opacity="0.7" stroke="#000" stroke-width="1"/>
<circle cx="1483.75" cy="222.5" r="4.8" fill="#010101" fill-opacity="0.7" stroke="#000" stroke-width="1"/>
<rect x="1443.95" y="220.7" width="9.6" height="9.6" fill="#010101" fill-opacity="0.7" stroke="#000" stroke-width="1"/>
<circle cx="1466.25" cy="262.5" r="4.8" fill="#000000" fill-opacity="0.4" stroke="#000" stroke-width="1"/>
<circle cx="1466.25" cy="308" r="4.8" fill="#010101" fill-opacity="0.7" stroke="#000" stroke-width="1"/>
<rect x="1461.45" y="352.7" width="9.6" height="9.6" fill="#010101" fill-opacity="0.7" stroke="#000" stroke-width="1"/>
<rect x="1461.45" y="390.7" width="9.6" height="9.6" fill="#010101" fill-opacity="0.7" stroke="#000" stroke-width="1"/>
<text x="1700" y="53.25" text-anchor="middle" font-size="31.3">Omicron BA.5 (waning)</text>
<line x1="1560.75" y1="123.25" x2="1560.75" y2="461.57" stroke="#000" stroke-width="2.15"/>
<line x1="1547.5" y1="200.5" x2="1560.75" y2="200.5" stroke="#000" stroke-width="2.15"/>
<text x="1540" y="208.81" text-anchor="end" font-size="24.8">100</text>
<line x1="1547.5" y1="330.75" x2="1560.75" y2="330.75" stroke="#000" stroke-width="2.15"/>
<text x="1540" y="339.06" text-anchor="end" font-size="24.8">50</text>
<line x1="1547.5" y1="460.5" x2="1560.75" y2="460.5" stroke="#000" stroke-width="2.15"/>
<text x="1540" y="468.81" text-anchor="end" font-size="24.8">0</text>
<line x1="1547.5" y1="408.75" x2="1560.75" y2="408.75" stroke="#000" stroke-width="2.15"/>
<line x1="1547.5" y1="460.5" x2="1785.75" y2="460.5" stroke="#000" stroke-width="2.15"/>
<line x1="1605.5" y1="460.5" x2="1605.5" y2="473.5" stroke="#000" stroke-width="2.15"/>
<line x1="1673" y1="460.5" x2="1673" y2="473.5" stroke="#000" stroke-width="2.15"/>
<line x1="1740.75" y1="460.5" x2="1740.75" y2="473.5" stroke="#000" stroke-width="2.15"/>
<text text-anchor="end" transform="translate(1612.8 494.7) rotate(-45)" font-size="25.4">pHC</text>
<text text-anchor="end" transform="translate(1680.3 494.7) rotate(-45)" font-size="25.4">pSOTR M</text>
<text text-anchor="end" transform="translate(1748.05 494.7) rotate(-45)" font-size="25.4">pSOTR B</text>
<line x1="1563.25" y1="408.75" x2="1784.5" y2="408.75" stroke="#000" stroke-width="2.6" stroke-linecap="round" stroke-dasharray="0.01 3.35"/>
<path d="M1605.5 150V108.25H1740.75V150" fill="none" stroke="#404040" stroke-width="1.3"/>
<text x="1674.25" y="93.3" text-anchor="middle" font-size="19.5">ns</text>
<path d="M1605.5 198.75V170H1666.25V189.25" fill="none" stroke="#404040" stroke-width="1.3"/>
<text x="1638" y="155.05" text-anchor="middle" font-size="19.5">ns</text>
<path d="M1679.5 189.25V170H1740.75V262.5" fill="none" stroke="#404040" stroke-width="1.3"/>
<text x="1710.75" y="168.17" text-anchor="middle" font-weight="bold" font-size="34.5">*</text>
<line x1="1605.62" y1="218.75" x2="1605.62" y2="350.5" stroke="#000" stroke-width="1.8"/>
<line x1="1605.62" y1="431.75" x2="1605.62" y2="438.75" stroke="#000" stroke-width="1.8"/>
<line x1="1593.72" y1="218.75" x2="1617.53" y2="218.75" stroke="#000" stroke-width="1.8"/>
<line x1="1593.72" y1="438.75" x2="1617.53" y2="438.75" stroke="#000" stroke-width="1.8"/>
<rect x="1583.75" y="350.5" width="43.75" height="81.25" fill="none" stroke="#000" stroke-width="1.8"/>
<line x1="1583.75" y1="412" x2="1627.5" y2="412" stroke="#000" stroke-width="1.8"/>
<line x1="1672.88" y1="209.5" x2="1672.88" y2="369.5" stroke="#000" stroke-width="1.8"/>
<line x1="1672.88" y1="435.5" x2="1672.88" y2="460.5" stroke="#000" stroke-width="1.8"/>
<line x1="1660.78" y1="209.5" x2="1684.97" y2="209.5" stroke="#000" stroke-width="1.8"/>
<line x1="1660.78" y1="460.5" x2="1684.97" y2="460.5" stroke="#000" stroke-width="1.8"/>
<rect x="1650.75" y="369.5" width="44.25" height="66" fill="none" stroke="#000" stroke-width="1.8"/>
<line x1="1650.75" y1="413.75" x2="1695" y2="413.75" stroke="#000" stroke-width="1.8"/>
<line x1="1740.62" y1="282.5" x2="1740.62" y2="305.75" stroke="#000" stroke-width="1.8"/>
<line x1="1740.62" y1="401.25" x2="1740.62" y2="444.25" stroke="#000" stroke-width="1.8"/>
<line x1="1728.53" y1="282.5" x2="1752.72" y2="282.5" stroke="#000" stroke-width="1.8"/>
<line x1="1728.53" y1="444.25" x2="1752.72" y2="444.25" stroke="#000" stroke-width="1.8"/>
<rect x="1718.75" y="305.75" width="43.75" height="95.5" fill="none" stroke="#000" stroke-width="1.8"/>
<line x1="1718.75" y1="315" x2="1762.5" y2="315" stroke="#000" stroke-width="1.8"/>
<rect x="1600.7" y="214.45" width="9.6" height="9.6" fill="#394aae" fill-opacity="0.58" stroke="#000" stroke-width="1"/>
<circle cx="1605.5" cy="335" r="4.8" fill="#394aae" fill-opacity="0.58" stroke="#000" stroke-width="1"/>
<circle cx="1605.5" cy="355" r="4.8" fill="#3953a4" fill-opacity="1" stroke="#000" stroke-width="1"/>
<circle cx="1605.5" cy="384.25" r="4.8" fill="#3953a4" fill-opacity="1" stroke="#000" stroke-width="1"/>
<circle cx="1606.25" cy="406.75" r="4.8" fill="#3953a4" fill-opacity="1" stroke="#000" stroke-width="1"/>
<rect x="1583.95" y="412.2" width="9.6" height="9.6" fill="#394aae" fill-opacity="0.58" stroke="#000" stroke-width="1"/>
<rect x="1601.45" y="412.7" width="9.6" height="9.6" fill="#394aae" fill-opacity="0.58" stroke="#000" stroke-width="1"/>
<rect x="1601.45" y="427.7" width="9.6" height="9.6" fill="#394aae" fill-opacity="0.58" stroke="#000" stroke-width="1"/>
<rect x="1618.45" y="431.45" width="9.6" height="9.6" fill="#394aae" fill-opacity="0.58" stroke="#000" stroke-width="1"/>
<circle cx="1588" cy="438.75" r="4.8" fill="#3953a4" fill-opacity="1" stroke="#000" stroke-width="1"/>
<rect x="1668.2" y="204.7" width="9.6" height="9.6" fill="#ee2d24" fill-opacity="1" stroke="#000" stroke-width="1"/>
<rect x="1673.95" y="328.2" width="9.6" height="9.6" fill="#ee2d24" fill-opacity="1" stroke="#000" stroke-width="1"/>
<rect x="1662.2" y="334.45" width="9.6" height="9.6" fill="#ed2d00" fill-opacity="0.5" stroke="#000" stroke-width="1"/>
<rect x="1662.2" y="358.2" width="9.6" height="9.6" fill="#ee2d24" fill-opacity="1" stroke="#000" stroke-width="1"/>
<rect x="1674.45" y="361.95" width="9.6" height="9.6" fill="#ed2d00" fill-opacity="0.5" stroke="#000" stroke-width="1"/>
<rect x="1662.2" y="370.7" width="9.6" height="9.6" fill="#f02f00" fill-opacity="0.13" stroke="#000" stroke-width="1"/>
<circle cx="1678.75" cy="379.25" r="4.8" fill="#ee2d24" fill-opacity="1" stroke="#000" stroke-width="1"/>
<circle cx="1667" cy="388.75" r="4.8" fill="#ee2d24" fill-opacity="1" stroke="#000" stroke-width="1"/>
<circle cx="1678.75" cy="404.25" r="4.8" fill="#ed2d00" fill-opacity="0.5" stroke="#000" stroke-width="1"/>
<circle cx="1667" cy="412" r="4.8" fill="#ee2d24" fill-opacity="1" stroke="#000" stroke-width="1"/>
<circle cx="1655.75" cy="415.75" r="4.8" fill="#ed2d00" fill-opacity="0.5" stroke="#000" stroke-width="1"/>
<rect x="1673.95" y="419.45" width="9.6" height="9.6" fill="#ee2d24" fill-opacity="1" stroke="#000" stroke-width="1"/>
<rect x="1650.95" y="421.45" width="9.6" height="9.6" fill="#ed2d00" fill-opacity="0.5" stroke="#000" stroke-width="1"/>
<rect x="1662.2" y="425.2" width="9.6" height="9.6" fill="#ed2d00" fill-opacity="0.5" stroke="#000" stroke-width="1"/>
<rect x="1674.45" y="431.45" width="9.6" height="9.6" fill="#ed2d00" fill-opacity="0.5" stroke="#000" stroke-width="1"/>
<rect x="1686.45" y="431.95" width="9.6" height="9.6" fill="#ed2d00" fill-opacity="0.5" stroke="#000" stroke-width="1"/>
<circle cx="1667" cy="440.5" r="4.8" fill="#ed2d00" fill-opacity="0.5" stroke="#000" stroke-width="1"/>
<rect x="1668.2" y="446.45" width="9.6" height="9.6" fill="#ee2d24" fill-opacity="1" stroke="#000" stroke-width="1"/>
<circle cx="1684.5" cy="456.75" r="4.8" fill="#ee2d24" fill-opacity="1" stroke="#000" stroke-width="1"/>
<circle cx="1661.25" cy="460" r="4.8" fill="#ed2d00" fill-opacity="0.5" stroke="#000" stroke-width="1"/>
<rect x="1735.95" y="277.7" width="9.6" height="9.6" fill="#010101" fill-opacity="0.7" stroke="#000" stroke-width="1"/>
<circle cx="1723.25" cy="306.25" r="4.8" fill="#010101" fill-opacity="0.7" stroke="#000" stroke-width="1"/>
<circle cx="1740.75" cy="305" r="4.8" fill="#000000" fill-opacity="1" stroke="#000" stroke-width="1"/>
<circle cx="1758.25" cy="313.75" r="4.8" fill="#010101" fill-opacity="0.7" stroke="#000" stroke-width="1"/>
<circle cx="1740.75" cy="317.5" r="4.8" fill="#000000" fill-opacity="0.4" stroke="#000" stroke-width="1"/>
<rect x="1735.95" y="385.2" width="9.6" height="9.6" fill="#010101" fill-opacity="0.7" stroke="#000" stroke-width="1"/>
<rect x="1735.95" y="401.45" width="9.6" height="9.6" fill="#010101" fill-opacity="0.7" stroke="#000" stroke-width="1"/>
<circle cx="1740.75" cy="444.25" r="4.8" fill="#010101" fill-opacity="0.7" stroke="#000" stroke-width="1"/>
<rect x="1812.5" y="167.3" width="187" height="258" fill="#fff" stroke="#555" stroke-width="1.2"/>
<text x="1831.2" y="205.6" font-size="28.6">Vax doses:</text>
<circle cx="1846.5" cy="233" r="5.3" fill="#3953a4" stroke="#000" stroke-width="0.9"/>
<text x="1853.4" y="243.3" font-size="24.2">3</text>
<circle cx="1879" cy="233" r="5.3" fill="#8c96d0" stroke="#000" stroke-width="0.9"/>
<text x="1887.9" y="243.3" font-size="24.2">2</text>
<circle cx="1846.5" cy="261.2" r="5.3" fill="#ee2d24" stroke="#000" stroke-width="0.9"/>
<text x="1853.4" y="271.5" font-size="24.2">4</text>
<circle cx="1879" cy="261.2" r="5.3" fill="#f69679" stroke="#000" stroke-width="0.9"/>
<text x="1887.9" y="271.5" font-size="24.2">3</text>
<circle cx="1913.2" cy="261.2" r="5.3" fill="#fde4d9" stroke="#000" stroke-width="0.9"/>
<text x="1922.9" y="271.5" font-size="24.2">2</text>
<circle cx="1846.5" cy="289.8" r="5.3" fill="#000000" stroke="#000" stroke-width="0.9"/>
<text x="1853.4" y="300.1" font-size="24.2">6</text>
<circle cx="1879" cy="289.8" r="5.3" fill="#4d4d4d" stroke="#000" stroke-width="0.9"/>
<text x="1887.9" y="300.1" font-size="24.2">5</text>
<circle cx="1913.2" cy="289.8" r="5.3" fill="#999999" stroke="#000" stroke-width="0.9"/>
<text x="1922.9" y="300.1" font-size="24.2">4</text>
<text x="1833" y="334.4" font-size="28.4">COVID-19</text>
<text x="1833" y="369" font-size="28">history:</text>
<rect x="1833.1" y="393.1" width="10.6" height="10.6" fill="#fff" stroke="#000" stroke-width="1.2"/>
<text x="1849.6" y="403.8" font-size="23.9">yes</text>
<circle cx="1917.3" cy="398.3" r="5.4" fill="#fff" stroke="#000" stroke-width="1.2"/>
<text x="1929.3" y="403.8" font-size="24">no</text>
<text x="345.5" y="667" text-anchor="middle" font-size="30.4">pHC</text>
<line x1="125" y1="698.75" x2="125" y2="996.08" stroke="#000" stroke-width="2.15"/>
<line x1="113.25" y1="798" x2="125" y2="798" stroke="#000" stroke-width="2.15"/>
<text x="112.25" y="806.31" text-anchor="end" font-size="24.8">100</text>
<line x1="113.25" y1="896.5" x2="125" y2="896.5" stroke="#000" stroke-width="2.15"/>
<text x="112.25" y="904.81" text-anchor="end" font-size="24.8">50</text>
<line x1="113.25" y1="995" x2="125" y2="995" stroke="#000" stroke-width="2.15"/>
<text x="112.25" y="1003.31" text-anchor="end" font-size="24.8">0</text>
<line x1="113.25" y1="995" x2="569.25" y2="995" stroke="#000" stroke-width="2.15"/>
<line x1="125" y1="995" x2="125" y2="1006.5" stroke="#000" stroke-width="2.15"/>
<line x1="346.25" y1="995" x2="346.25" y2="1006.5" stroke="#000" stroke-width="2.15"/>
<line x1="568.25" y1="995" x2="568.25" y2="1006.5" stroke="#000" stroke-width="2.15"/>
<text x="128" y="1030.75" text-anchor="middle" font-size="24.8">100</text>
<text x="350.25" y="1030.75" text-anchor="middle" font-size="24.8">1000</text>
<text x="573" y="1030.75" text-anchor="middle" font-size="24.8">10000</text>
<text x="363.5" y="1066.25" text-anchor="middle" font-size="26.5">Anti-Spike IgG (WHO units)</text>
<text text-anchor="middle" transform="translate(56.5 850) rotate(-90)" font-size="26.5">% ACE2 inhibition</text>
<line x1="138" y1="708" x2="170.75" y2="708" stroke="#000" stroke-width="1.6"/>
<path d="M154.25 701.8L160.45 708L154.25 714.2L148.05 708Z" fill="#3953a4" stroke="#000" stroke-width="1.1"/>
<text x="188.75" y="713.75" font-size="17.5">Ancestral ACE2 inhibition</text>
<text x="236.25" y="736.25" font-size="15.6">R<tspan dy="-5.3" font-size="10.3">2</tspan><tspan dy="5.3"> = 0.8619</tspan></text>
<text x="237" y="757" font-size="15.3"><tspan font-style="italic">P</tspan> = 0.001343</text>
<line x1="138" y1="783" x2="171.25" y2="783" stroke="#000" stroke-width="1.6"/>
<rect x="148.75" y="776.75" width="12.5" height="12.5" fill="#3953a4" stroke="#000" stroke-width="1"/>
<text x="189.25" y="788.75" font-size="17.5">BA.5 ACE2 inhibition</text>
<text x="213.75" y="811.75" font-size="15.6">R<tspan dy="-5.3" font-size="10.3">2</tspan><tspan dy="5.3"> = 0.868</tspan></text>
<text x="215.5" y="834.25" font-size="15.3"><tspan font-style="italic">P</tspan> = 0.001129</text>
<path d="M277.51 892.24L280.96 891.69L284.4 891.12L287.85 890.53L291.29 889.91L294.74 889.28L298.18 888.62L301.63 887.93L305.07 887.22L308.52 886.49L311.96 885.73L315.41 884.94L318.85 884.12L322.3 883.28L325.75 882.4L329.19 881.49L332.64 880.54L336.08 879.56L339.53 878.55L342.97 877.5L346.42 876.41L349.86 875.28L353.31 874.11L356.75 872.9L360.2 871.64L363.65 870.34L367.09 868.99L370.54 867.59L373.98 866.14L377.43 864.63L380.87 863.07L384.32 861.46L387.76 859.78L391.21 858.05L394.65 856.25L398.1 854.38L401.55 852.45L404.99 850.45L408.44 848.37L411.88 846.22L415.33 843.98L418.77 841.67L422.22 839.28L425.66 836.79L429.11 834.21L432.55 831.55L436 828.78L439.44 825.91L442.89 822.94L446.34 819.86L449.78 816.66L453.23 813.35L456.67 809.92L460.12 806.37L463.56 802.68L467.01 798.86L470.45 794.9L473.9 790.79L477.34 786.54L480.79 782.13L484.24 777.56" fill="none" stroke="#000" stroke-width="1.7"/>
<path d="M278 982.98L281.46 982.4L284.92 981.8L288.39 981.17L291.85 980.52L295.31 979.85L298.77 979.15L302.24 978.43L305.7 977.68L309.16 976.9L312.62 976.09L316.08 975.26L319.55 974.39L323.01 973.49L326.47 972.56L329.93 971.6L333.39 970.6L336.86 969.56L340.32 968.49L343.78 967.37L347.24 966.22L350.71 965.02L354.17 963.78L357.63 962.49L361.09 961.16L364.55 959.77L368.02 958.34L371.48 956.85L374.94 955.31L378.4 953.71L381.87 952.06L385.33 950.34L388.79 948.56L392.25 946.71L395.71 944.8L399.18 942.82L402.64 940.76L406.1 938.63L409.56 936.42L413.03 934.13L416.49 931.75L419.95 929.29L423.41 926.74L426.87 924.09L430.34 921.35L433.8 918.51L437.26 915.56L440.72 912.5L444.19 909.33L447.65 906.05L451.11 902.64L454.57 899.11L458.03 895.45L461.5 891.66L464.96 887.73L468.42 883.65L471.88 879.42L475.35 875.04L478.81 870.5L482.27 865.79L485.73 860.91" fill="none" stroke="#000" stroke-width="1.7"/>
<path d="M303.25 838.05L309.45 844.25L303.25 850.45L297.05 844.25Z" fill="#3953a4" stroke="#000" stroke-width="1.1"/>
<path d="M322.5 869.3L328.7 875.5L322.5 881.7L316.3 875.5Z" fill="#3953a4" stroke="#000" stroke-width="1.1"/>
<path d="M351.25 865.55L357.45 871.75L351.25 877.95L345.05 871.75Z" fill="#3953a4" stroke="#000" stroke-width="1.1"/>
<path d="M287.5 908.05L293.7 914.25L287.5 920.45L281.3 914.25Z" fill="#3953a4" stroke="#000" stroke-width="1.1"/>
<path d="M277.5 930.3L283.7 936.5L277.5 942.7L271.3 936.5Z" fill="#3953a4" stroke="#000" stroke-width="1.1"/>
<path d="M431.75 812.8L437.95 819L431.75 825.2L425.55 819Z" fill="#3953a4" stroke="#000" stroke-width="1.1"/>
<path d="M439.25 802.05L445.45 808.25L439.25 814.45L433.05 808.25Z" fill="#3953a4" stroke="#000" stroke-width="1.1"/>
<path d="M445 807.3L451.2 813.5L445 819.7L438.8 813.5Z" fill="#3953a4" stroke="#000" stroke-width="1.1"/>
<path d="M465.5 800.05L471.7 806.25L465.5 812.45L459.3 806.25Z" fill="#3953a4" stroke="#000" stroke-width="1.1"/>
<path d="M484.25 792.05L490.45 798.25L484.25 804.45L478.05 798.25Z" fill="#3953a4" stroke="#000" stroke-width="1.1"/>
<rect x="271.75" y="969.5" width="12.5" height="12.5" fill="#3953a4" stroke="#000" stroke-width="1"/>
<rect x="281.75" y="966.75" width="12.5" height="12.5" fill="#3953a4" stroke="#000" stroke-width="1"/>
<rect x="298.25" y="955.5" width="12.5" height="12.5" fill="#3953a4" stroke="#000" stroke-width="1"/>
<rect x="317" y="956.25" width="12.5" height="12.5" fill="#3953a4" stroke="#000" stroke-width="1"/>
<rect x="346.25" y="971.25" width="12.5" height="12.5" fill="#3953a4" stroke="#000" stroke-width="1"/>
<rect x="427" y="948" width="12.5" height="12.5" fill="#3953a4" stroke="#000" stroke-width="1"/>
<rect x="434.25" y="930" width="12.5" height="12.5" fill="#3953a4" stroke="#000" stroke-width="1"/>
<rect x="440.25" y="893" width="12.5" height="12.5" fill="#3953a4" stroke="#000" stroke-width="1"/>
<rect x="460.75" y="907.75" width="12.5" height="12.5" fill="#3953a4" stroke="#000" stroke-width="1"/>
<rect x="479.5" y="804.25" width="12.5" height="12.5" fill="#3953a4" stroke="#000" stroke-width="1"/>
<text x="905.25" y="667" text-anchor="middle" font-size="30.4">pSOTR monovalent</text>
<line x1="677.5" y1="695.5" x2="677.5" y2="992.33" stroke="#000" stroke-width="2.15"/>
<line x1="666.25" y1="794.25" x2="677.5" y2="794.25" stroke="#000" stroke-width="2.15"/>
<text x="666.25" y="802.56" text-anchor="end" font-size="24.8">100</text>
<line x1="666.25" y1="892.5" x2="677.5" y2="892.5" stroke="#000" stroke-width="2.15"/>
<text x="666.25" y="900.81" text-anchor="end" font-size="24.8">50</text>
<line x1="666.25" y1="991.25" x2="677.5" y2="991.25" stroke="#000" stroke-width="2.15"/>
<text x="666.25" y="999.56" text-anchor="end" font-size="24.8">0</text>
<line x1="666.25" y1="991.25" x2="1122.25" y2="991.25" stroke="#000" stroke-width="2.15"/>
<line x1="677.5" y1="991.25" x2="677.5" y2="1003.75" stroke="#000" stroke-width="2.15"/>
<line x1="765.75" y1="991.25" x2="765.75" y2="1003.75" stroke="#000" stroke-width="2.15"/>
<line x1="855" y1="991.25" x2="855" y2="1003.75" stroke="#000" stroke-width="2.15"/>
<line x1="943.75" y1="991.25" x2="943.75" y2="1003.75" stroke="#000" stroke-width="2.15"/>
<line x1="1031.75" y1="991.25" x2="1031.75" y2="1003.75" stroke="#000" stroke-width="2.15"/>
<line x1="1121.25" y1="991.25" x2="1121.25" y2="1003.75" stroke="#000" stroke-width="2.15"/>
<text x="678.75" y="1027" text-anchor="middle" font-size="24.8">0.1</text>
<text x="766.25" y="1027" text-anchor="middle" font-size="24.8">1</text>
<text x="856.75" y="1027" text-anchor="middle" font-size="24.8">10</text>
<text x="946.25" y="1027" text-anchor="middle" font-size="24.8">100</text>
<text x="1035.75" y="1027" text-anchor="middle" font-size="24.8">1000</text>
<text x="1126.25" y="1027" text-anchor="middle" font-size="24.8">10000</text>
<text x="916" y="1062.5" text-anchor="middle" font-size="26.5">Anti-Spike IgG (WHO units)</text>
<line x1="697" y1="704.25" x2="730" y2="704.25" stroke="#000" stroke-width="1.6"/>
<path d="M713.25 698.05L719.45 704.25L713.25 710.45L707.05 704.25Z" fill="#ee2d24" stroke="#000" stroke-width="1.1"/>
<text x="747.5" y="710.75" font-size="17.5">Ancestral ACE2 inhibition</text>
<text x="797.5" y="732.5" font-size="15.6">R<tspan dy="-5.3" font-size="10.3">2</tspan><tspan dy="5.3"> = 0.8832</tspan></text>
<text x="796.75" y="753.75" font-size="15.3"><tspan font-style="italic">P</tspan> = 2.494e-007</text>
<line x1="700" y1="780.75" x2="732.5" y2="780.75" stroke="#000" stroke-width="1.6"/>
<rect x="710" y="774.5" width="12.5" height="12.5" fill="#ee2d24" stroke="#000" stroke-width="1"/>
<text x="750.5" y="786.75" font-size="17.5">BA.5 ACE2 inhibition</text>
<text x="784.25" y="809.5" font-size="15.6">R<tspan dy="-5.3" font-size="10.3">2</tspan><tspan dy="5.3"> = 0.859</tspan></text>
<text x="783.75" y="831.25" font-size="15.3"><tspan font-style="italic">P</tspan> = 1.239e-006</text>
<path d="M766.25 928.17L769.82 928.16L773.4 928.16L776.97 928.16L780.55 928.15L784.12 928.14L787.7 928.14L791.27 928.13L794.85 928.12L798.42 928.12L802 928.11L805.57 928.1L809.15 928.08L812.72 928.07L816.3 928.06L819.87 928.04L823.45 928.03L827.02 928.01L830.6 927.99L834.17 927.97L837.75 927.95L841.32 927.92L844.9 927.89L848.47 927.86L852.05 927.83L855.62 927.79L859.2 927.75L862.77 927.71L866.35 927.66L869.92 927.6L873.5 927.54L877.07 927.48L880.65 927.41L884.22 927.33L887.8 927.25L891.37 927.15L894.95 927.05L898.52 926.94L902.1 926.81L905.67 926.68L909.25 926.53L912.82 926.36L916.4 926.19L919.97 925.99L923.55 925.77L927.12 925.54L930.7 925.28L934.27 924.99L937.85 924.68L941.42 924.33L945 923.96L948.57 923.54L952.15 923.09L955.72 922.59L959.3 922.05L962.87 921.45L966.45 920.79L970.02 920.07L973.6 919.28L977.17 918.41L980.75 917.46L984.32 916.41L987.9 915.27L991.47 914.01L995.05 912.63L998.62 911.11L1002.2 909.45L1005.77 907.63L1009.35 905.63L1012.92 903.43L1016.5 901.03L1020.07 898.38L1023.65 895.49L1027.22 892.31L1030.8 888.82L1034.37 884.99L1037.95 880.79L1041.52 876.18L1045.1 871.12L1048.67 865.57L1052.25 859.49L1055.82 852.81L1059.4 845.48L1062.97 837.44L1066.55 828.62L1070.12 818.94L1073.7 808.32L1077.27 796.66L1080.85 783.88L1084.42 769.85L1088 754.46" fill="none" stroke="#000" stroke-width="1.7"/>
<path d="M766.25 990.63L769.83 990.62L773.42 990.62L777 990.62L780.58 990.61L784.17 990.61L787.75 990.6L791.33 990.6L794.91 990.59L798.5 990.59L802.08 990.58L805.66 990.57L809.25 990.56L812.83 990.55L816.41 990.54L820 990.53L823.58 990.52L827.16 990.51L830.74 990.49L834.33 990.48L837.91 990.46L841.49 990.44L845.08 990.42L848.66 990.39L852.24 990.37L855.83 990.34L859.41 990.31L862.99 990.27L866.57 990.23L870.16 990.19L873.74 990.15L877.32 990.1L880.91 990.04L884.49 989.98L888.07 989.92L891.66 989.85L895.24 989.77L898.82 989.68L902.4 989.58L905.99 989.48L909.57 989.36L913.15 989.24L916.74 989.1L920.32 988.95L923.9 988.78L927.49 988.6L931.07 988.4L934.65 988.18L938.23 987.94L941.82 987.67L945.4 987.38L948.98 987.06L952.57 986.71L956.15 986.32L959.73 985.9L963.32 985.44L966.9 984.93L970.48 984.37L974.06 983.76L977.65 983.09L981.23 982.35L984.81 981.54L988.4 980.65L991.98 979.68L995.56 978.61L999.15 977.43L1002.73 976.15L1006.31 974.73L1009.89 973.18L1013.48 971.48L1017.06 969.61L1020.64 967.56L1024.23 965.31L1027.81 962.84L1031.39 960.13L1034.98 957.15L1038.56 953.89L1042.14 950.31L1045.72 946.38L1049.31 942.06L1052.89 937.33L1056.47 932.13L1060.06 926.43L1063.64 920.17L1067.22 913.31L1070.81 905.77L1074.39 897.5L1077.97 888.43L1081.55 878.47L1085.14 867.54L1088.72 855.55" fill="none" stroke="#000" stroke-width="1.7"/>
<path d="M906.25 956.3L912.45 962.5L906.25 968.7L900.05 962.5Z" fill="#ee2d24" stroke="#000" stroke-width="1.1"/>
<path d="M1087.5 788.3L1093.7 794.5L1087.5 800.7L1081.3 794.5Z" fill="#ee2d24" stroke="#000" stroke-width="1.1"/>
<path d="M1079.5 791.3L1085.7 797.5L1079.5 803.7L1073.3 797.5Z" fill="#ee2d24" stroke="#000" stroke-width="1.1"/>
<path d="M1069.25 795.8L1075.45 802L1069.25 808.2L1063.05 802Z" fill="#ee2d24" stroke="#000" stroke-width="1.1"/>
<path d="M1051.25 818.8L1057.45 825L1051.25 831.2L1045.05 825Z" fill="#ee2d24" stroke="#000" stroke-width="1.1"/>
<path d="M1049.25 824.3L1055.45 830.5L1049.25 836.7L1043.05 830.5Z" fill="#ee2d24" stroke="#000" stroke-width="1.1"/>
<path d="M1051.75 832.55L1057.95 838.75L1051.75 844.95L1045.55 838.75Z" fill="#ee2d24" stroke="#000" stroke-width="1.1"/>
<path d="M1060 844.3L1066.2 850.5L1060 856.7L1053.8 850.5Z" fill="#ee2d24" stroke="#000" stroke-width="1.1"/>
<path d="M1046.25 845.05L1052.45 851.25L1046.25 857.45L1040.05 851.25Z" fill="#ee2d24" stroke="#000" stroke-width="1.1"/>
<path d="M1041.25 846.8L1047.45 853L1041.25 859.2L1035.05 853Z" fill="#ee2d24" stroke="#000" stroke-width="1.1"/>
<path d="M1038.75 859.3L1044.95 865.5L1038.75 871.7L1032.55 865.5Z" fill="#ee2d24" stroke="#000" stroke-width="1.1"/>
<path d="M1036.25 864.3L1042.45 870.5L1036.25 876.7L1030.05 870.5Z" fill="#ee2d24" stroke="#000" stroke-width="1.1"/>
<path d="M1024.5 864.3L1030.7 870.5L1024.5 876.7L1018.3 870.5Z" fill="#ee2d24" stroke="#000" stroke-width="1.1"/>
<path d="M1026.25 885.8L1032.45 892L1026.25 898.2L1020.05 892Z" fill="#ee2d24" stroke="#000" stroke-width="1.1"/>
<path d="M1003.25 896.3L1009.45 902.5L1003.25 908.7L997.05 902.5Z" fill="#ee2d24" stroke="#000" stroke-width="1.1"/>
<path d="M1020 906.3L1026.2 912.5L1020 918.7L1013.8 912.5Z" fill="#ee2d24" stroke="#000" stroke-width="1.1"/>
<path d="M984.5 909.55L990.7 915.75L984.5 921.95L978.3 915.75Z" fill="#ee2d24" stroke="#000" stroke-width="1.1"/>
<path d="M1005 919.8L1011.2 926L1005 932.2L998.8 926Z" fill="#ee2d24" stroke="#000" stroke-width="1.1"/>
<rect x="759.5" y="985.5" width="12.5" height="12.5" fill="#ee2d24" stroke="#000" stroke-width="1"/>
<rect x="900" y="961.75" width="12.5" height="12.5" fill="#ee2d24" stroke="#000" stroke-width="1"/>
<rect x="1082" y="795" width="12.5" height="12.5" fill="#ee2d24" stroke="#000" stroke-width="1"/>
<rect x="1064" y="888.25" width="12.5" height="12.5" fill="#ee2d24" stroke="#000" stroke-width="1"/>
<rect x="1075.5" y="893.25" width="12.5" height="12.5" fill="#ee2d24" stroke="#000" stroke-width="1"/>
<rect x="1053.75" y="911.75" width="12.5" height="12.5" fill="#ee2d24" stroke="#000" stroke-width="1"/>
<rect x="1031.25" y="914.25" width="12.5" height="12.5" fill="#ee2d24" stroke="#000" stroke-width="1"/>
<rect x="1043.25" y="920.25" width="12.5" height="12.5" fill="#ee2d24" stroke="#000" stroke-width="1"/>
<rect x="1075" y="923.25" width="12.5" height="12.5" fill="#ee2d24" stroke="#000" stroke-width="1"/>
<rect x="1046.25" y="930.75" width="12.5" height="12.5" fill="#ee2d24" stroke="#000" stroke-width="1"/>
<rect x="1040.75" y="942.5" width="12.5" height="12.5" fill="#ee2d24" stroke="#000" stroke-width="1"/>
<rect x="1036.25" y="948.25" width="12.5" height="12.5" fill="#ee2d24" stroke="#000" stroke-width="1"/>
<rect x="1020.5" y="950.75" width="12.5" height="12.5" fill="#ee2d24" stroke="#000" stroke-width="1"/>
<rect x="1032.5" y="957" width="12.5" height="12.5" fill="#ee2d24" stroke="#000" stroke-width="1"/>
<rect x="1018.75" y="959.25" width="12.5" height="12.5" fill="#ee2d24" stroke="#000" stroke-width="1"/>
<rect x="1045.75" y="966.75" width="12.5" height="12.5" fill="#ee2d24" stroke="#000" stroke-width="1"/>
<rect x="1013.75" y="966.75" width="12.5" height="12.5" fill="#ee2d24" stroke="#000" stroke-width="1"/>
<rect x="999.25" y="970" width="12.5" height="12.5" fill="#ee2d24" stroke="#000" stroke-width="1"/>
<rect x="978.25" y="978.25" width="12.5" height="12.5" fill="#ee2d24" stroke="#000" stroke-width="1"/>
<rect x="997.5" y="981.75" width="12.5" height="12.5" fill="#ee2d24" stroke="#000" stroke-width="1"/>
<text x="1460.6" y="661.25" text-anchor="middle" font-size="30.4">pSOTR bivalent</text>
<line x1="1232.5" y1="699.25" x2="1232.5" y2="991.08" stroke="#000" stroke-width="2.15"/>
<line x1="1221.25" y1="766.25" x2="1232.5" y2="766.25" stroke="#000" stroke-width="2.15"/>
<text x="1221.25" y="774.56" text-anchor="end" font-size="24.8">100</text>
<line x1="1221.25" y1="878" x2="1232.5" y2="878" stroke="#000" stroke-width="2.15"/>
<text x="1221.25" y="886.31" text-anchor="end" font-size="24.8">50</text>
<line x1="1221.25" y1="990" x2="1232.5" y2="990" stroke="#000" stroke-width="2.15"/>
<text x="1221.25" y="998.31" text-anchor="end" font-size="24.8">0</text>
<line x1="1221.25" y1="990" x2="1669.25" y2="990" stroke="#000" stroke-width="2.15"/>
<line x1="1232.5" y1="990" x2="1232.5" y2="1001.25" stroke="#000" stroke-width="2.15"/>
<line x1="1450.5" y1="990" x2="1450.5" y2="1001.25" stroke="#000" stroke-width="2.15"/>
<line x1="1668.25" y1="990" x2="1668.25" y2="1001.25" stroke="#000" stroke-width="2.15"/>
<text x="1236.75" y="1024.5" text-anchor="middle" font-size="24.8">100</text>
<text x="1455" y="1024.5" text-anchor="middle" font-size="24.8">1000</text>
<text x="1674" y="1024.5" text-anchor="middle" font-size="24.8">10000</text>
<text x="1470" y="1060" text-anchor="middle" font-size="26.5">Anti-Spike IgG (WHO units)</text>
<line x1="1240" y1="696.25" x2="1271.75" y2="696.25" stroke="#000" stroke-width="1.6"/>
<path d="M1255.5 690.05L1261.7 696.25L1255.5 702.45L1249.3 696.25Z" fill="#000000" stroke="#000" stroke-width="1.1"/>
<text x="1289.25" y="701.75" font-size="17.25">Ancestral ACE2 inhibition</text>
<text x="1341.75" y="726.75" font-size="15.2">R<tspan dy="-5.17" font-size="10.03">2</tspan><tspan dy="5.17"> = 0.8448</tspan></text>
<text x="1342.5" y="748.75" font-size="15"><tspan font-style="italic">P</tspan> = 0.001242</text>
<line x1="1240.75" y1="775.75" x2="1272.5" y2="775.75" stroke="#000" stroke-width="1.6"/>
<rect x="1250" y="769.5" width="12.5" height="12.5" fill="#000000" stroke="#000" stroke-width="1"/>
<text x="1290" y="781.75" font-size="17.25">BA.5 ACE2 inhibition</text>
<text x="1321.75" y="803.75" font-size="15.2">R<tspan dy="-5.17" font-size="10.03">2</tspan><tspan dy="5.17"> = 0.7383</tspan></text>
<text x="1322.5" y="825.75" font-size="15"><tspan font-style="italic">P</tspan> = 0.006257</text>
<path d="M1396.78 907.44L1400.24 906.86L1403.71 906.26L1407.17 905.64L1410.63 905L1414.1 904.33L1417.56 903.63L1421.02 902.91L1424.49 902.17L1427.95 901.39L1431.41 900.59L1434.88 899.76L1438.34 898.9L1441.8 898L1445.27 897.07L1448.73 896.11L1452.19 895.11L1455.66 894.07L1459.12 892.99L1462.59 891.88L1466.05 890.72L1469.51 889.52L1472.98 888.27L1476.44 886.98L1479.9 885.64L1483.37 884.25L1486.83 882.81L1490.29 881.32L1493.76 879.77L1497.22 878.16L1500.68 876.49L1504.15 874.76L1507.61 872.96L1511.07 871.1L1514.54 869.17L1518 867.16L1521.46 865.09L1524.93 862.93L1528.39 860.69L1531.85 858.38L1535.32 855.97L1538.78 853.47L1542.24 850.89L1545.71 848.2L1549.17 845.42L1552.63 842.53L1556.1 839.53L1559.56 836.42L1563.02 833.2L1566.49 829.86L1569.95 826.39L1573.41 822.79L1576.88 819.06L1580.34 815.19L1583.8 811.17L1587.27 807.01L1590.73 802.69L1594.19 798.21L1597.66 793.56L1601.12 788.74L1604.58 783.74" fill="none" stroke="#000" stroke-width="1.7"/>
<path d="M1396.78 943.75L1400.24 943.23L1403.71 942.68L1407.17 942.12L1410.63 941.53L1414.1 940.92L1417.56 940.29L1421.02 939.64L1424.49 938.96L1427.95 938.26L1431.41 937.53L1434.88 936.77L1438.34 935.98L1441.8 935.17L1445.27 934.32L1448.73 933.45L1452.19 932.54L1455.66 931.6L1459.12 930.62L1462.59 929.6L1466.05 928.55L1469.51 927.46L1472.98 926.33L1476.44 925.15L1479.9 923.94L1483.37 922.67L1486.83 921.36L1490.29 920L1493.76 918.59L1497.22 917.13L1500.68 915.61L1504.15 914.04L1507.61 912.41L1511.07 910.71L1514.54 908.96L1518 907.14L1521.46 905.25L1524.93 903.29L1528.39 901.25L1531.85 899.15L1535.32 896.96L1538.78 894.69L1542.24 892.34L1545.71 889.9L1549.17 887.36L1552.63 884.74L1556.1 882.01L1559.56 879.19L1563.02 876.26L1566.49 873.22L1569.95 870.06L1573.41 866.79L1576.88 863.4L1580.34 859.88L1583.8 856.23L1587.27 852.45L1590.73 848.52L1594.19 844.45L1597.66 840.22L1601.12 835.84L1604.58 831.29" fill="none" stroke="#000" stroke-width="1.7"/>
<path d="M1605 796.3L1611.2 802.5L1605 808.7L1598.8 802.5Z" fill="#000000" stroke="#000" stroke-width="1.1"/>
<path d="M1595.75 800.05L1601.95 806.25L1595.75 812.45L1589.55 806.25Z" fill="#000000" stroke="#000" stroke-width="1.1"/>
<path d="M1567 803.8L1573.2 810L1567 816.2L1560.8 810Z" fill="#000000" stroke="#000" stroke-width="1.1"/>
<path d="M1572.5 806.3L1578.7 812.5L1572.5 818.7L1566.3 812.5Z" fill="#000000" stroke="#000" stroke-width="1.1"/>
<path d="M1536.75 833.8L1542.95 840L1536.75 846.2L1530.55 840Z" fill="#000000" stroke="#000" stroke-width="1.1"/>
<path d="M1437.5 867.05L1443.7 873.25L1437.5 879.45L1431.3 873.25Z" fill="#000000" stroke="#000" stroke-width="1.1"/>
<path d="M1451 904.05L1457.2 910.25L1451 916.45L1444.8 910.25Z" fill="#000000" stroke="#000" stroke-width="1.1"/>
<path d="M1397 933.3L1403.2 939.5L1397 945.7L1390.8 939.5Z" fill="#000000" stroke="#000" stroke-width="1.1"/>
<rect x="1565.5" y="830.5" width="12.5" height="12.5" fill="#000000" stroke="#000" stroke-width="1"/>
<rect x="1598.75" y="850" width="12.5" height="12.5" fill="#000000" stroke="#000" stroke-width="1"/>
<rect x="1589.5" y="850.75" width="12.5" height="12.5" fill="#000000" stroke="#000" stroke-width="1"/>
<rect x="1530.5" y="858.75" width="12.5" height="12.5" fill="#000000" stroke="#000" stroke-width="1"/>
<rect x="1561.25" y="857" width="12.5" height="12.5" fill="#000000" stroke="#000" stroke-width="1"/>
<rect x="1390.75" y="923.25" width="12.5" height="12.5" fill="#000000" stroke="#000" stroke-width="1"/>
<rect x="1444.5" y="936.25" width="12.5" height="12.5" fill="#000000" stroke="#000" stroke-width="1"/>
<rect x="1430.75" y="969.25" width="12.5" height="12.5" fill="#000000" stroke="#000" stroke-width="1"/>
<text x="238.5" y="1171.25" text-anchor="middle" font-size="30.4">pHC</text>
<line x1="125.5" y1="1200" x2="125.5" y2="1544.83" stroke="#000" stroke-width="2.15"/>
<line x1="113.25" y1="1278.75" x2="125.5" y2="1278.75" stroke="#000" stroke-width="2.15"/>
<text x="105.25" y="1287.06" text-anchor="end" font-size="24.8">100</text>
<line x1="113.25" y1="1411.25" x2="125.5" y2="1411.25" stroke="#000" stroke-width="2.15"/>
<text x="105.25" y="1419.56" text-anchor="end" font-size="24.8">50</text>
<line x1="113.25" y1="1543.75" x2="125.5" y2="1543.75" stroke="#000" stroke-width="2.15"/>
<text x="105.25" y="1552.06" text-anchor="end" font-size="24.8">0</text>
<line x1="113.25" y1="1543.75" x2="355" y2="1543.75" stroke="#000" stroke-width="2.15"/>
<line x1="190.75" y1="1543.75" x2="190.75" y2="1557.5" stroke="#000" stroke-width="2.15"/>
<line x1="289.25" y1="1543.75" x2="289.25" y2="1557.5" stroke="#000" stroke-width="2.15"/>
<text x="189.5" y="1585.75" text-anchor="middle" font-size="24.8">AN</text>
<text x="288.5" y="1585.75" text-anchor="middle" font-size="24.8">BA.5</text>
<text text-anchor="middle" transform="translate(56 1391) rotate(-90)" font-size="26.5">%ACE2 inhibition</text>
<line x1="126.9" y1="1478" x2="334.5" y2="1478" stroke="#000" stroke-width="2.5" stroke-linecap="round" stroke-dasharray="0.01 6.9"/>
<path d="M190.5 1259.25V1239.5H289.5V1276.25" fill="none" stroke="#404040" stroke-width="1.3"/>
<text x="240.5" y="1237.67" text-anchor="middle" font-weight="bold" font-size="34.5">**</text>
<line x1="190.6" y1="1279.6" x2="289.1" y2="1297.1" stroke="#000" stroke-width="1.25"/>
<line x1="190.6" y1="1290.5" x2="289.1" y2="1415.5" stroke="#000" stroke-width="1.25"/>
<line x1="190.6" y1="1294.9" x2="289.1" y2="1435.9" stroke="#000" stroke-width="1.25"/>
<line x1="190.6" y1="1300" x2="289.1" y2="1465.8" stroke="#000" stroke-width="1.25"/>
<line x1="190.6" y1="1307.6" x2="289.1" y2="1489.2" stroke="#000" stroke-width="1.25"/>
<line x1="190.6" y1="1341.6" x2="289.1" y2="1499.8" stroke="#000" stroke-width="1.25"/>
<line x1="190.6" y1="1378" x2="289.1" y2="1501.3" stroke="#000" stroke-width="1.25"/>
<line x1="190.6" y1="1383.1" x2="289.1" y2="1518.8" stroke="#000" stroke-width="1.25"/>
<line x1="190.6" y1="1435.9" x2="289.1" y2="1514.4" stroke="#000" stroke-width="1.25"/>
<line x1="190.6" y1="1466.3" x2="289.1" y2="1521.7" stroke="#000" stroke-width="1.25"/>
<circle cx="190.6" cy="1279.6" r="5" fill="#3953a4" stroke="#000" stroke-width="0.9"/>
<circle cx="289.1" cy="1297.1" r="5" fill="#3953a4" stroke="#000" stroke-width="0.9"/>
<circle cx="190.6" cy="1290.5" r="5" fill="#3953a4" stroke="#000" stroke-width="0.9"/>
<circle cx="289.1" cy="1415.5" r="5" fill="#3953a4" stroke="#000" stroke-width="0.9"/>
<circle cx="190.6" cy="1294.9" r="5" fill="#3953a4" stroke="#000" stroke-width="0.9"/>
<circle cx="289.1" cy="1435.9" r="5" fill="#3953a4" stroke="#000" stroke-width="0.9"/>
<circle cx="190.6" cy="1300" r="5" fill="#3953a4" stroke="#000" stroke-width="0.9"/>
<circle cx="289.1" cy="1465.8" r="5" fill="#3953a4" stroke="#000" stroke-width="0.9"/>
<circle cx="190.6" cy="1307.6" r="5" fill="#3953a4" stroke="#000" stroke-width="0.9"/>
<circle cx="289.1" cy="1489.2" r="5" fill="#3953a4" stroke="#000" stroke-width="0.9"/>
<circle cx="190.6" cy="1341.6" r="5" fill="#3953a4" stroke="#000" stroke-width="0.9"/>
<circle cx="289.1" cy="1499.8" r="5" fill="#3953a4" stroke="#000" stroke-width="0.9"/>
<circle cx="190.6" cy="1378" r="5" fill="#3953a4" stroke="#000" stroke-width="0.9"/>
<circle cx="289.1" cy="1501.3" r="5" fill="#3953a4" stroke="#000" stroke-width="0.9"/>
<circle cx="190.6" cy="1383.1" r="5" fill="#3953a4" stroke="#000" stroke-width="0.9"/>
<circle cx="289.1" cy="1518.8" r="5" fill="#3953a4" stroke="#000" stroke-width="0.9"/>
<circle cx="190.6" cy="1435.9" r="5" fill="#3953a4" stroke="#000" stroke-width="0.9"/>
<circle cx="289.1" cy="1514.4" r="5" fill="#3953a4" stroke="#000" stroke-width="0.9"/>
<circle cx="190.6" cy="1466.3" r="5" fill="#3953a4" stroke="#000" stroke-width="0.9"/>
<circle cx="289.1" cy="1521.7" r="5" fill="#3953a4" stroke="#000" stroke-width="0.9"/>
<text x="522" y="1171.25" text-anchor="middle" font-size="30.4">pSOTR monovalent</text>
<line x1="426.25" y1="1200" x2="426.25" y2="1545.33" stroke="#000" stroke-width="2.15"/>
<line x1="413.75" y1="1278.75" x2="426.25" y2="1278.75" stroke="#000" stroke-width="2.15"/>
<text x="405.25" y="1287.06" text-anchor="end" font-size="24.8">100</text>
<line x1="413.75" y1="1411.25" x2="426.25" y2="1411.25" stroke="#000" stroke-width="2.15"/>
<text x="405.25" y="1419.56" text-anchor="end" font-size="24.8">50</text>
<line x1="413.75" y1="1544.25" x2="426.25" y2="1544.25" stroke="#000" stroke-width="2.15"/>
<text x="405.25" y="1552.56" text-anchor="end" font-size="24.8">0</text>
<line x1="412.5" y1="1544.25" x2="655.5" y2="1544.25" stroke="#000" stroke-width="2.15"/>
<line x1="491.75" y1="1544.25" x2="491.75" y2="1558.25" stroke="#000" stroke-width="2.15"/>
<line x1="590.5" y1="1544.25" x2="590.5" y2="1558.25" stroke="#000" stroke-width="2.15"/>
<text x="490.5" y="1586.25" text-anchor="middle" font-size="24.8">AN</text>
<text x="589.5" y="1586.25" text-anchor="middle" font-size="24.8">BA.5</text>
<line x1="427.7" y1="1477.5" x2="635.5" y2="1477.5" stroke="#000" stroke-width="2.5" stroke-linecap="round" stroke-dasharray="0.01 6.9"/>
<path d="M491.75 1259.25V1239.5H590.25V1267.5" fill="none" stroke="#404040" stroke-width="1.3"/>
<text x="541.25" y="1237.67" text-anchor="middle" font-weight="bold" font-size="34.5">****</text>
<line x1="491.75" y1="1279.6" x2="590.5" y2="1287.6" stroke="#000" stroke-width="1.25"/>
<line x1="491.75" y1="1283.2" x2="590.5" y2="1413" stroke="#000" stroke-width="1.25"/>
<line x1="491.75" y1="1288.3" x2="590.5" y2="1419.6" stroke="#000" stroke-width="1.25"/>
<line x1="491.75" y1="1286" x2="590.5" y2="1457.5" stroke="#000" stroke-width="1.25"/>
<line x1="491.75" y1="1319.7" x2="590.5" y2="1498.4" stroke="#000" stroke-width="1.25"/>
<line x1="491.75" y1="1327.4" x2="590.5" y2="1496.2" stroke="#000" stroke-width="1.25"/>
<line x1="491.75" y1="1327.4" x2="590.5" y2="1448" stroke="#000" stroke-width="1.25"/>
<line x1="491.75" y1="1337.9" x2="590.5" y2="1461.2" stroke="#000" stroke-width="1.25"/>
<line x1="491.75" y1="1353.2" x2="590.5" y2="1444.4" stroke="#000" stroke-width="1.25"/>
<line x1="491.75" y1="1356.9" x2="590.5" y2="1507.9" stroke="#000" stroke-width="1.25"/>
<line x1="491.75" y1="1356.9" x2="590.5" y2="1448" stroke="#000" stroke-width="1.25"/>
<line x1="491.75" y1="1375.9" x2="590.5" y2="1470.7" stroke="#000" stroke-width="1.25"/>
<line x1="491.75" y1="1381" x2="590.5" y2="1444.4" stroke="#000" stroke-width="1.25"/>
<line x1="491.75" y1="1381" x2="590.5" y2="1512.2" stroke="#000" stroke-width="1.25"/>
<line x1="491.75" y1="1410.1" x2="590.5" y2="1486.7" stroke="#000" stroke-width="1.25"/>
<line x1="491.75" y1="1424.7" x2="590.5" y2="1518.8" stroke="#000" stroke-width="1.25"/>
<line x1="491.75" y1="1437.8" x2="590.5" y2="1523.2" stroke="#000" stroke-width="1.25"/>
<line x1="491.75" y1="1442.2" x2="590.5" y2="1534.8" stroke="#000" stroke-width="1.25"/>
<line x1="491.75" y1="1455.3" x2="590.5" y2="1539.2" stroke="#000" stroke-width="1.25"/>
<line x1="491.75" y1="1505.7" x2="590.5" y2="1512.2" stroke="#000" stroke-width="1.25"/>
<line x1="491.75" y1="1543.6" x2="590.5" y2="1543.6" stroke="#000" stroke-width="1.25"/>
<circle cx="491.75" cy="1279.6" r="5" fill="#ee2d24" stroke="#000" stroke-width="0.9"/>
<circle cx="590.5" cy="1287.6" r="5" fill="#ee2d24" stroke="#000" stroke-width="0.9"/>
<circle cx="491.75" cy="1283.2" r="5" fill="#ee2d24" stroke="#000" stroke-width="0.9"/>
<circle cx="590.5" cy="1413" r="5" fill="#ee2d24" stroke="#000" stroke-width="0.9"/>
<circle cx="491.75" cy="1288.3" r="5" fill="#ee2d24" stroke="#000" stroke-width="0.9"/>
<circle cx="590.5" cy="1419.6" r="5" fill="#ee2d24" stroke="#000" stroke-width="0.9"/>
<circle cx="491.75" cy="1286" r="5" fill="#ee2d24" stroke="#000" stroke-width="0.9"/>
<circle cx="590.5" cy="1457.5" r="5" fill="#ee2d24" stroke="#000" stroke-width="0.9"/>
<circle cx="491.75" cy="1319.7" r="5" fill="#ee2d24" stroke="#000" stroke-width="0.9"/>
<circle cx="590.5" cy="1498.4" r="5" fill="#ee2d24" stroke="#000" stroke-width="0.9"/>
<circle cx="491.75" cy="1327.4" r="5" fill="#ee2d24" stroke="#000" stroke-width="0.9"/>
<circle cx="590.5" cy="1496.2" r="5" fill="#ee2d24" stroke="#000" stroke-width="0.9"/>
<circle cx="491.75" cy="1327.4" r="5" fill="#ee2d24" stroke="#000" stroke-width="0.9"/>
<circle cx="590.5" cy="1448" r="5" fill="#ee2d24" stroke="#000" stroke-width="0.9"/>
<circle cx="491.75" cy="1337.9" r="5" fill="#ee2d24" stroke="#000" stroke-width="0.9"/>
<circle cx="590.5" cy="1461.2" r="5" fill="#ee2d24" stroke="#000" stroke-width="0.9"/>
<circle cx="491.75" cy="1353.2" r="5" fill="#ee2d24" stroke="#000" stroke-width="0.9"/>
<circle cx="590.5" cy="1444.4" r="5" fill="#ee2d24" stroke="#000" stroke-width="0.9"/>
<circle cx="491.75" cy="1356.9" r="5" fill="#ee2d24" stroke="#000" stroke-width="0.9"/>
<circle cx="590.5" cy="1507.9" r="5" fill="#ee2d24" stroke="#000" stroke-width="0.9"/>
<circle cx="491.75" cy="1356.9" r="5" fill="#ee2d24" stroke="#000" stroke-width="0.9"/>
<circle cx="590.5" cy="1448" r="5" fill="#ee2d24" stroke="#000" stroke-width="0.9"/>
<circle cx="491.75" cy="1375.9" r="5" fill="#ee2d24" stroke="#000" stroke-width="0.9"/>
<circle cx="590.5" cy="1470.7" r="5" fill="#ee2d24" stroke="#000" stroke-width="0.9"/>
<circle cx="491.75" cy="1381" r="5" fill="#ee2d24" stroke="#000" stroke-width="0.9"/>
<circle cx="590.5" cy="1444.4" r="5" fill="#ee2d24" stroke="#000" stroke-width="0.9"/>
<circle cx="491.75" cy="1381" r="5" fill="#ee2d24" stroke="#000" stroke-width="0.9"/>
<circle cx="590.5" cy="1512.2" r="5" fill="#ee2d24" stroke="#000" stroke-width="0.9"/>
<circle cx="491.75" cy="1410.1" r="5" fill="#ee2d24" stroke="#000" stroke-width="0.9"/>
<circle cx="590.5" cy="1486.7" r="5" fill="#ee2d24" stroke="#000" stroke-width="0.9"/>
<circle cx="491.75" cy="1424.7" r="5" fill="#ee2d24" stroke="#000" stroke-width="0.9"/>
<circle cx="590.5" cy="1518.8" r="5" fill="#ee2d24" stroke="#000" stroke-width="0.9"/>
<circle cx="491.75" cy="1437.8" r="5" fill="#ee2d24" stroke="#000" stroke-width="0.9"/>
<circle cx="590.5" cy="1523.2" r="5" fill="#ee2d24" stroke="#000" stroke-width="0.9"/>
<circle cx="491.75" cy="1442.2" r="5" fill="#ee2d24" stroke="#000" stroke-width="0.9"/>
<circle cx="590.5" cy="1534.8" r="5" fill="#ee2d24" stroke="#000" stroke-width="0.9"/>
<circle cx="491.75" cy="1455.3" r="5" fill="#ee2d24" stroke="#000" stroke-width="0.9"/>
<circle cx="590.5" cy="1539.2" r="5" fill="#ee2d24" stroke="#000" stroke-width="0.9"/>
<circle cx="491.75" cy="1505.7" r="5" fill="#ee2d24" stroke="#000" stroke-width="0.9"/>
<circle cx="590.5" cy="1512.2" r="5" fill="#ee2d24" stroke="#000" stroke-width="0.9"/>
<circle cx="491.75" cy="1543.6" r="5" fill="#ee2d24" stroke="#000" stroke-width="0.9"/>
<circle cx="590.5" cy="1543.6" r="5" fill="#ee2d24" stroke="#000" stroke-width="0.9"/>
<text x="828" y="1171.25" text-anchor="middle" font-size="30.4">pSOTR bivalent</text>
<line x1="722" y1="1206.25" x2="722" y2="1545.58" stroke="#000" stroke-width="2.15"/>
<line x1="708.75" y1="1284.25" x2="722" y2="1284.25" stroke="#000" stroke-width="2.15"/>
<text x="701.75" y="1292.56" text-anchor="end" font-size="24.8">100</text>
<line x1="708.75" y1="1414.5" x2="722" y2="1414.5" stroke="#000" stroke-width="2.15"/>
<text x="701.75" y="1422.81" text-anchor="end" font-size="24.8">50</text>
<line x1="708.75" y1="1544.5" x2="722" y2="1544.5" stroke="#000" stroke-width="2.15"/>
<text x="701.75" y="1552.81" text-anchor="end" font-size="24.8">0</text>
<line x1="708.75" y1="1544.5" x2="947.5" y2="1544.5" stroke="#000" stroke-width="2.15"/>
<line x1="785.75" y1="1544.5" x2="785.75" y2="1558.25" stroke="#000" stroke-width="2.15"/>
<line x1="883" y1="1544.5" x2="883" y2="1558.25" stroke="#000" stroke-width="2.15"/>
<text x="785" y="1586.25" text-anchor="middle" font-size="24.8">AN</text>
<text x="882.5" y="1586.25" text-anchor="middle" font-size="24.8">BA.5</text>
<line x1="723.4" y1="1479.25" x2="932.5" y2="1479.25" stroke="#000" stroke-width="2.5" stroke-linecap="round" stroke-dasharray="0.01 6.9"/>
<path d="M785.75 1272.5V1253H883V1346.25" fill="none" stroke="#404040" stroke-width="1.3"/>
<text x="834.5" y="1251.42" text-anchor="middle" font-weight="bold" font-size="34.5">*</text>
<line x1="786" y1="1306.7" x2="882.8" y2="1366.3" stroke="#000" stroke-width="1.25"/>
<line x1="786" y1="1292.6" x2="882.8" y2="1388.8" stroke="#000" stroke-width="1.25"/>
<line x1="786" y1="1298.2" x2="882.8" y2="1394.7" stroke="#000" stroke-width="1.25"/>
<line x1="786" y1="1302.5" x2="882.8" y2="1394.7" stroke="#000" stroke-width="1.25"/>
<line x1="786" y1="1300" x2="882.8" y2="1399.6" stroke="#000" stroke-width="1.25"/>
<line x1="786" y1="1343.6" x2="882.8" y2="1399.6" stroke="#000" stroke-width="1.25"/>
<line x1="786" y1="1388.4" x2="882.8" y2="1528.1" stroke="#000" stroke-width="1.25"/>
<line x1="786" y1="1437.4" x2="882.8" y2="1489.5" stroke="#000" stroke-width="1.25"/>
<line x1="786" y1="1474.7" x2="882.8" y2="1474.3" stroke="#000" stroke-width="1.25"/>
<circle cx="786" cy="1306.7" r="5.4" fill="#000000" stroke="#000" stroke-width="0.9"/>
<circle cx="882.8" cy="1366.3" r="5.4" fill="#000000" stroke="#000" stroke-width="0.9"/>
<circle cx="786" cy="1292.6" r="5.4" fill="#000000" stroke="#000" stroke-width="0.9"/>
<circle cx="882.8" cy="1388.8" r="5.4" fill="#000000" stroke="#000" stroke-width="0.9"/>
<circle cx="786" cy="1298.2" r="5.4" fill="#000000" stroke="#000" stroke-width="0.9"/>
<circle cx="882.8" cy="1394.7" r="5.4" fill="#000000" stroke="#000" stroke-width="0.9"/>
<circle cx="786" cy="1302.5" r="5.4" fill="#000000" stroke="#000" stroke-width="0.9"/>
<circle cx="882.8" cy="1394.7" r="5.4" fill="#000000" stroke="#000" stroke-width="0.9"/>
<circle cx="786" cy="1300" r="5.4" fill="#000000" stroke="#000" stroke-width="0.9"/>
<circle cx="882.8" cy="1399.6" r="5.4" fill="#000000" stroke="#000" stroke-width="0.9"/>
<circle cx="786" cy="1343.6" r="5.4" fill="#000000" stroke="#000" stroke-width="0.9"/>
<circle cx="882.8" cy="1399.6" r="5.4" fill="#000000" stroke="#000" stroke-width="0.9"/>
<circle cx="786" cy="1388.4" r="5.4" fill="#000000" stroke="#000" stroke-width="0.9"/>
<circle cx="882.8" cy="1528.1" r="5.4" fill="#000000" stroke="#000" stroke-width="0.9"/>
<circle cx="786" cy="1437.4" r="5.4" fill="#000000" stroke="#000" stroke-width="0.9"/>
<circle cx="882.8" cy="1489.5" r="5.4" fill="#000000" stroke="#000" stroke-width="0.9"/>
<circle cx="786" cy="1474.7" r="5.4" fill="#000000" stroke="#000" stroke-width="0.9"/>
<circle cx="882.8" cy="1474.3" r="5.4" fill="#000000" stroke="#000" stroke-width="0.9"/>
<text x="1245.5" y="1156.75" text-anchor="middle" font-size="30">Anti-Spike IgG</text>
<line x1="1151.25" y1="1235.5" x2="1151.25" y2="1554.08" stroke="#000" stroke-width="2.15"/>
<line x1="1138.75" y1="1235.5" x2="1151.25" y2="1235.5" stroke="#000" stroke-width="2.15"/>
<text x="1132.25" y="1243.81" text-anchor="end" font-size="24.8">10000</text>
<line x1="1138.75" y1="1299" x2="1151.25" y2="1299" stroke="#000" stroke-width="2.15"/>
<text x="1132.25" y="1307.31" text-anchor="end" font-size="24.8">1000</text>
<line x1="1138.75" y1="1362.5" x2="1151.25" y2="1362.5" stroke="#000" stroke-width="2.15"/>
<text x="1132.25" y="1370.81" text-anchor="end" font-size="24.8">100</text>
<line x1="1138.75" y1="1425.75" x2="1151.25" y2="1425.75" stroke="#000" stroke-width="2.15"/>
<text x="1132.25" y="1434.06" text-anchor="end" font-size="24.8">10</text>
<line x1="1138.75" y1="1489.5" x2="1151.25" y2="1489.5" stroke="#000" stroke-width="2.15"/>
<text x="1132.25" y="1497.81" text-anchor="end" font-size="24.8">1</text>
<line x1="1138.75" y1="1553" x2="1151.25" y2="1553" stroke="#000" stroke-width="2.15"/>
<text x="1132.25" y="1561.31" text-anchor="end" font-size="24.8">0.1</text>
<line x1="1138.75" y1="1553" x2="1341.25" y2="1553" stroke="#000" stroke-width="2.15"/>
<text text-anchor="middle" transform="translate(1050 1393) rotate(-90)" font-size="26.5">WHO units</text>
<path d="M1204.5 1246.25V1223H1286.75V1242.5" fill="none" stroke="#404040" stroke-width="1.3"/>
<text x="1245.75" y="1222.67" text-anchor="middle" font-weight="bold" font-size="34.5">*</text>
<line x1="1204.88" y1="1264.5" x2="1204.88" y2="1286" stroke="#000" stroke-width="1.8"/>
<line x1="1204.88" y1="1313.25" x2="1204.88" y2="1490" stroke="#000" stroke-width="1.8"/>
<line x1="1190.67" y1="1264.5" x2="1219.08" y2="1264.5" stroke="#000" stroke-width="1.8"/>
<line x1="1190.67" y1="1490" x2="1219.08" y2="1490" stroke="#000" stroke-width="1.8"/>
<rect x="1178.25" y="1286" width="53.25" height="27.25" fill="none" stroke="#000" stroke-width="1.8"/>
<line x1="1178.25" y1="1290.6" x2="1231.5" y2="1290.6" stroke="#000" stroke-width="1.8"/>
<line x1="1286.88" y1="1260.75" x2="1286.88" y2="1312.5" stroke="#000" stroke-width="1.8"/>
<line x1="1286.88" y1="1422" x2="1286.88" y2="1548.75" stroke="#000" stroke-width="1.8"/>
<line x1="1272.67" y1="1260.75" x2="1301.08" y2="1260.75" stroke="#000" stroke-width="1.8"/>
<line x1="1272.67" y1="1548.75" x2="1301.08" y2="1548.75" stroke="#000" stroke-width="1.8"/>
<rect x="1260.25" y="1312.5" width="53.25" height="109.5" fill="none" stroke="#000" stroke-width="1.8"/>
<line x1="1260.25" y1="1339.25" x2="1313.5" y2="1339.25" stroke="#000" stroke-width="1.8"/>
<circle cx="1205" cy="1264.5" r="4.8" fill="#ee2d24" stroke="#000" stroke-width="0.9"/>
<circle cx="1182.5" cy="1285" r="4.8" fill="#ee2d24" stroke="#000" stroke-width="0.9"/>
<circle cx="1197.25" cy="1285" r="4.8" fill="#ee2d24" stroke="#000" stroke-width="0.9"/>
<circle cx="1212.5" cy="1292" r="4.8" fill="#ee2d24" stroke="#000" stroke-width="0.9"/>
<circle cx="1227.5" cy="1289.25" r="4.8" fill="#ee2d24" stroke="#000" stroke-width="0.9"/>
<circle cx="1205" cy="1303.75" r="4.8" fill="#ee2d24" stroke="#000" stroke-width="0.9"/>
<circle cx="1205" cy="1319" r="4.8" fill="#ee2d24" stroke="#000" stroke-width="0.9"/>
<circle cx="1205" cy="1490.25" r="4.8" fill="#ee2d24" stroke="#000" stroke-width="0.9"/>
<circle cx="1279.25" cy="1262" r="4.8" fill="#2cb8de" stroke="#000" stroke-width="0.9"/>
<circle cx="1286.75" cy="1264.5" r="4.8" fill="#2cb8de" stroke="#000" stroke-width="0.9"/>
<circle cx="1294.5" cy="1262" r="4.8" fill="#2cb8de" stroke="#000" stroke-width="0.9"/>
<circle cx="1286.75" cy="1275.25" r="4.8" fill="#2cb8de" stroke="#000" stroke-width="0.9"/>
<circle cx="1279.25" cy="1285.5" r="4.8" fill="#2cb8de" stroke="#000" stroke-width="0.9"/>
<circle cx="1286.75" cy="1285" r="4.8" fill="#2cb8de" stroke="#000" stroke-width="0.9"/>
<circle cx="1294.5" cy="1286" r="4.8" fill="#2cb8de" stroke="#000" stroke-width="0.9"/>
<circle cx="1294.5" cy="1303.75" r="4.8" fill="#2cb8de" stroke="#000" stroke-width="0.9"/>
<circle cx="1286.75" cy="1310.75" r="4.8" fill="#2cb8de" stroke="#000" stroke-width="0.9"/>
<circle cx="1279.25" cy="1312.5" r="4.8" fill="#2cb8de" stroke="#000" stroke-width="0.9"/>
<circle cx="1279.25" cy="1320.5" r="4.8" fill="#2cb8de" stroke="#000" stroke-width="0.9"/>
<circle cx="1294.25" cy="1321.5" r="4.8" fill="#2cb8de" stroke="#000" stroke-width="0.9"/>
<circle cx="1301.5" cy="1321.5" r="4.8" fill="#2cb8de" stroke="#000" stroke-width="0.9"/>
<circle cx="1271.75" cy="1325.25" r="4.8" fill="#2cb8de" stroke="#000" stroke-width="0.9"/>
<circle cx="1264.25" cy="1328" r="4.8" fill="#2cb8de" stroke="#000" stroke-width="0.9"/>
<circle cx="1309.5" cy="1328.25" r="4.8" fill="#2cb8de" stroke="#000" stroke-width="0.9"/>
<circle cx="1286.75" cy="1328.75" r="4.8" fill="#2cb8de" stroke="#000" stroke-width="0.9"/>
<circle cx="1279.25" cy="1336.5" r="4.8" fill="#2cb8de" stroke="#000" stroke-width="0.9"/>
<circle cx="1294.5" cy="1339.5" r="4.8" fill="#2cb8de" stroke="#000" stroke-width="0.9"/>
<circle cx="1286.75" cy="1347" r="4.8" fill="#2cb8de" stroke="#000" stroke-width="0.9"/>
<circle cx="1294.5" cy="1352.75" r="4.8" fill="#2cb8de" stroke="#000" stroke-width="0.9"/>
<circle cx="1271.75" cy="1355" r="4.8" fill="#2cb8de" stroke="#000" stroke-width="0.9"/>
<circle cx="1302" cy="1357.5" r="4.8" fill="#2cb8de" stroke="#000" stroke-width="0.9"/>
<circle cx="1286.75" cy="1359.25" r="4.8" fill="#2cb8de" stroke="#000" stroke-width="0.9"/>
<circle cx="1279.25" cy="1361.25" r="4.8" fill="#2cb8de" stroke="#000" stroke-width="0.9"/>
<circle cx="1286.75" cy="1370" r="4.8" fill="#2cb8de" stroke="#000" stroke-width="0.9"/>
<circle cx="1286.75" cy="1395.75" r="4.8" fill="#2cb8de" stroke="#000" stroke-width="0.9"/>
<circle cx="1286.75" cy="1414.25" r="4.8" fill="#2cb8de" stroke="#000" stroke-width="0.9"/>
<circle cx="1286.75" cy="1435.5" r="4.8" fill="#2cb8de" stroke="#000" stroke-width="0.9"/>
<circle cx="1279.25" cy="1439.5" r="4.8" fill="#2cb8de" stroke="#000" stroke-width="0.9"/>
<circle cx="1294.5" cy="1443.25" r="4.8" fill="#2cb8de" stroke="#000" stroke-width="0.9"/>
<circle cx="1286.75" cy="1467.5" r="4.8" fill="#2cb8de" stroke="#000" stroke-width="0.9"/>
<circle cx="1286.75" cy="1480.5" r="4.8" fill="#2cb8de" stroke="#000" stroke-width="0.9"/>
<circle cx="1290.5" cy="1505.5" r="4.8" fill="#2cb8de" stroke="#000" stroke-width="0.9"/>
<circle cx="1283" cy="1509.5" r="4.8" fill="#2cb8de" stroke="#000" stroke-width="0.9"/>
<circle cx="1286.75" cy="1525.5" r="4.8" fill="#2cb8de" stroke="#000" stroke-width="0.9"/>
<circle cx="1286.75" cy="1548.75" r="4.8" fill="#2cb8de" stroke="#000" stroke-width="0.9"/>
<text x="1525" y="1156.75" text-anchor="middle" font-size="30">Anti-S1 RBD IgG</text>
<line x1="1435.75" y1="1235.75" x2="1435.75" y2="1555.75" stroke="#000" stroke-width="2.15"/>
<line x1="1423.25" y1="1235.75" x2="1435.75" y2="1235.75" stroke="#000" stroke-width="2.15"/>
<text x="1408" y="1244.75" text-anchor="end" font-size="25.5">10</text>
<text x="1410" y="1237.25" font-size="17">4</text>
<line x1="1423.25" y1="1315.5" x2="1435.75" y2="1315.5" stroke="#000" stroke-width="2.15"/>
<text x="1408" y="1324.5" text-anchor="end" font-size="25.5">10</text>
<text x="1410" y="1317" font-size="17">3</text>
<line x1="1423.25" y1="1395.5" x2="1435.75" y2="1395.5" stroke="#000" stroke-width="2.15"/>
<text x="1408" y="1404.5" text-anchor="end" font-size="25.5">10</text>
<text x="1410" y="1397" font-size="17">2</text>
<line x1="1423.25" y1="1475" x2="1435.75" y2="1475" stroke="#000" stroke-width="2.15"/>
<text x="1408" y="1484" text-anchor="end" font-size="25.5">10</text>
<text x="1410" y="1476.5" font-size="17">1</text>
<line x1="1423.25" y1="1554.75" x2="1435.75" y2="1554.75" stroke="#000" stroke-width="2.15"/>
<text x="1408" y="1563.75" text-anchor="end" font-size="25.5">10</text>
<text x="1410" y="1556.25" font-size="17">0</text>
<line x1="1423.25" y1="1554.75" x2="1626.75" y2="1554.75" stroke="#000" stroke-width="2.15"/>
<path d="M1489.5 1227.5V1208.25H1572V1228.75" fill="none" stroke="#404040" stroke-width="1.3"/>
<text x="1530.75" y="1208.42" text-anchor="middle" font-weight="bold" font-size="34.5">*</text>
<line x1="1490" y1="1246.25" x2="1490" y2="1279.75" stroke="#000" stroke-width="1.8"/>
<line x1="1490" y1="1313.75" x2="1490" y2="1543.75" stroke="#000" stroke-width="1.8"/>
<line x1="1475.8" y1="1246.25" x2="1504.2" y2="1246.25" stroke="#000" stroke-width="1.8"/>
<line x1="1475.8" y1="1543.75" x2="1504.2" y2="1543.75" stroke="#000" stroke-width="1.8"/>
<rect x="1463.5" y="1279.75" width="53" height="34" fill="none" stroke="#000" stroke-width="1.8"/>
<line x1="1463.5" y1="1296.5" x2="1516.5" y2="1296.5" stroke="#000" stroke-width="1.8"/>
<line x1="1571.75" y1="1247" x2="1571.75" y2="1329.5" stroke="#000" stroke-width="1.8"/>
<line x1="1571.75" y1="1454.5" x2="1571.75" y2="1519.5" stroke="#000" stroke-width="1.8"/>
<line x1="1557.55" y1="1247" x2="1585.95" y2="1247" stroke="#000" stroke-width="1.8"/>
<line x1="1557.55" y1="1519.5" x2="1585.95" y2="1519.5" stroke="#000" stroke-width="1.8"/>
<rect x="1545" y="1329.5" width="53.5" height="125" fill="none" stroke="#000" stroke-width="1.8"/>
<line x1="1545" y1="1362.5" x2="1598.5" y2="1362.5" stroke="#000" stroke-width="1.8"/>
<circle cx="1489.5" cy="1246.25" r="4.8" fill="#ee2d24" stroke="#000" stroke-width="0.9"/>
<circle cx="1478.75" cy="1278" r="4.8" fill="#ee2d24" stroke="#000" stroke-width="0.9"/>
<circle cx="1501" cy="1282.5" r="4.8" fill="#ee2d24" stroke="#000" stroke-width="0.9"/>
<circle cx="1467.5" cy="1297.5" r="4.8" fill="#ee2d24" stroke="#000" stroke-width="0.9"/>
<circle cx="1489.5" cy="1296" r="4.8" fill="#ee2d24" stroke="#000" stroke-width="0.9"/>
<circle cx="1512" cy="1297.75" r="4.8" fill="#ee2d24" stroke="#000" stroke-width="0.9"/>
<circle cx="1489.5" cy="1323.75" r="4.8" fill="#ee2d24" stroke="#000" stroke-width="0.9"/>
<circle cx="1489.5" cy="1543.75" r="4.8" fill="#ee2d24" stroke="#000" stroke-width="0.9"/>
<circle cx="1560.5" cy="1250.75" r="4.8" fill="#2cb8de" stroke="#000" stroke-width="0.9"/>
<circle cx="1594.5" cy="1247.5" r="4.8" fill="#2cb8de" stroke="#000" stroke-width="0.9"/>
<circle cx="1571.75" cy="1254.5" r="4.8" fill="#2cb8de" stroke="#000" stroke-width="0.9"/>
<circle cx="1583" cy="1253.75" r="4.8" fill="#2cb8de" stroke="#000" stroke-width="0.9"/>
<circle cx="1571.75" cy="1269.25" r="4.8" fill="#2cb8de" stroke="#000" stroke-width="0.9"/>
<circle cx="1571.75" cy="1282.5" r="4.8" fill="#2cb8de" stroke="#000" stroke-width="0.9"/>
<circle cx="1571.75" cy="1293" r="4.8" fill="#2cb8de" stroke="#000" stroke-width="0.9"/>
<circle cx="1571.75" cy="1323" r="4.8" fill="#2cb8de" stroke="#000" stroke-width="0.9"/>
<circle cx="1583" cy="1326.75" r="4.8" fill="#2cb8de" stroke="#000" stroke-width="0.9"/>
<circle cx="1594.25" cy="1329.5" r="4.8" fill="#2cb8de" stroke="#000" stroke-width="0.9"/>
<circle cx="1549.25" cy="1331.75" r="4.8" fill="#2cb8de" stroke="#000" stroke-width="0.9"/>
<circle cx="1571.75" cy="1332.5" r="4.8" fill="#2cb8de" stroke="#000" stroke-width="0.9"/>
<circle cx="1583" cy="1337.5" r="4.8" fill="#2cb8de" stroke="#000" stroke-width="0.9"/>
<circle cx="1560.5" cy="1340" r="4.8" fill="#2cb8de" stroke="#000" stroke-width="0.9"/>
<circle cx="1594.25" cy="1340.75" r="4.8" fill="#2cb8de" stroke="#000" stroke-width="0.9"/>
<circle cx="1549.25" cy="1343.75" r="4.8" fill="#2cb8de" stroke="#000" stroke-width="0.9"/>
<circle cx="1583" cy="1347.5" r="4.8" fill="#2cb8de" stroke="#000" stroke-width="0.9"/>
<circle cx="1594.25" cy="1357" r="4.8" fill="#2cb8de" stroke="#000" stroke-width="0.9"/>
<circle cx="1560.5" cy="1361.75" r="4.8" fill="#2cb8de" stroke="#000" stroke-width="0.9"/>
<circle cx="1571.75" cy="1363.75" r="4.8" fill="#2cb8de" stroke="#000" stroke-width="0.9"/>
<circle cx="1583" cy="1365.75" r="4.8" fill="#2cb8de" stroke="#000" stroke-width="0.9"/>
<circle cx="1571.75" cy="1373" r="4.8" fill="#2cb8de" stroke="#000" stroke-width="0.9"/>
<circle cx="1571.75" cy="1385.75" r="4.8" fill="#2cb8de" stroke="#000" stroke-width="0.9"/>
<circle cx="1583" cy="1388.75" r="4.8" fill="#2cb8de" stroke="#000" stroke-width="0.9"/>
<circle cx="1560.5" cy="1395.5" r="4.8" fill="#2cb8de" stroke="#000" stroke-width="0.9"/>
<circle cx="1560.5" cy="1414.25" r="4.8" fill="#2cb8de" stroke="#000" stroke-width="0.9"/>
<circle cx="1583" cy="1418.75" r="4.8" fill="#2cb8de" stroke="#000" stroke-width="0.9"/>
<circle cx="1571.75" cy="1422" r="4.8" fill="#2cb8de" stroke="#000" stroke-width="0.9"/>
<circle cx="1571.75" cy="1452.5" r="4.8" fill="#2cb8de" stroke="#000" stroke-width="0.9"/>
<circle cx="1571.75" cy="1465" r="4.8" fill="#2cb8de" stroke="#000" stroke-width="0.9"/>
<circle cx="1583" cy="1492" r="4.8" fill="#2cb8de" stroke="#000" stroke-width="0.9"/>
<circle cx="1571.75" cy="1495.5" r="4.8" fill="#2cb8de" stroke="#000" stroke-width="0.9"/>
<circle cx="1583" cy="1504.5" r="4.8" fill="#2cb8de" stroke="#000" stroke-width="0.9"/>
<circle cx="1560.5" cy="1506.25" r="4.8" fill="#2cb8de" stroke="#000" stroke-width="0.9"/>
<circle cx="1583" cy="1514.25" r="4.8" fill="#2cb8de" stroke="#000" stroke-width="0.9"/>
<circle cx="1571.75" cy="1517" r="4.8" fill="#2cb8de" stroke="#000" stroke-width="0.9"/>
<circle cx="1549.25" cy="1519.5" r="4.8" fill="#2cb8de" stroke="#000" stroke-width="0.9"/>
<circle cx="1594.25" cy="1519.5" r="4.8" fill="#2cb8de" stroke="#000" stroke-width="0.9"/>
<circle cx="1644.5" cy="1330" r="5.2" fill="#ee2d24" stroke="#000" stroke-width="0.9"/>
<text x="1661.75" y="1338.25" font-size="23.8">pSOTR (waning)</text>
<circle cx="1644.5" cy="1365" r="5.2" fill="#2cb8de" stroke="#000" stroke-width="0.9"/>
<text x="1661.75" y="1372" font-size="23.8">adult SOTR</text>
<text x="1661.75" y="1400.75" font-size="23.8">at peak</text>
<text x="221.6" y="1701.25" text-anchor="middle" font-size="31.2">Ancestral</text>
<line x1="122.5" y1="1771.25" x2="122.5" y2="2102.32" stroke="#000" stroke-width="2.15"/>
<line x1="110" y1="1847.25" x2="122.5" y2="1847.25" stroke="#000" stroke-width="2.15"/>
<text x="103.25" y="1855.56" text-anchor="end" font-size="24.8">100</text>
<line x1="110" y1="1974.25" x2="122.5" y2="1974.25" stroke="#000" stroke-width="2.15"/>
<text x="103.25" y="1982.56" text-anchor="end" font-size="24.8">50</text>
<line x1="110" y1="2101.25" x2="122.5" y2="2101.25" stroke="#000" stroke-width="2.15"/>
<text x="103.25" y="2109.56" text-anchor="end" font-size="24.8">0</text>
<line x1="110" y1="2101.25" x2="321.25" y2="2101.25" stroke="#000" stroke-width="2.15"/>
<text text-anchor="middle" transform="translate(45 1937) rotate(-90)" font-size="26.5">% ACE2 inhibition</text>
<line x1="123.9" y1="2038.5" x2="334.25" y2="2038.5" stroke="#000" stroke-width="2.5" stroke-linecap="round" stroke-dasharray="0.01 6.9"/>
<path d="M178.25 1828V1808.75H264.5V1831.75" fill="none" stroke="#404040" stroke-width="1.3"/>
<text x="221.75" y="1807.67" text-anchor="middle" font-weight="bold" font-size="34.5">*</text>
<line x1="178.75" y1="1847.5" x2="178.75" y2="1861" stroke="#000" stroke-width="1.8"/>
<line x1="178.75" y1="2004.75" x2="178.75" y2="2101.25" stroke="#000" stroke-width="1.8"/>
<line x1="167.75" y1="1847.5" x2="189.75" y2="1847.5" stroke="#000" stroke-width="1.8"/>
<line x1="167.75" y1="2101.25" x2="189.75" y2="2101.25" stroke="#000" stroke-width="1.8"/>
<rect x="150.75" y="1861" width="56" height="143.75" fill="none" stroke="#000" stroke-width="1.8"/>
<line x1="150.75" y1="1913" x2="206.75" y2="1913" stroke="#000" stroke-width="1.8"/>
<line x1="264.75" y1="1850.5" x2="264.75" y2="1991.25" stroke="#000" stroke-width="1.8"/>
<line x1="264.75" y1="2085.5" x2="264.75" y2="2101.25" stroke="#000" stroke-width="1.8"/>
<line x1="252.25" y1="1850.5" x2="277.25" y2="1850.5" stroke="#000" stroke-width="1.8"/>
<line x1="252.25" y1="2101.25" x2="277.25" y2="2101.25" stroke="#000" stroke-width="1.8"/>
<rect x="237" y="1991.25" width="55.5" height="94.25" fill="none" stroke="#000" stroke-width="1.8"/>
<line x1="237" y1="2054.25" x2="292.5" y2="2054.25" stroke="#000" stroke-width="1.8"/>
<circle cx="169.25" cy="1852.25" r="4.9" fill="#ee2d24" stroke="#000" stroke-width="0.9"/>
<circle cx="189.25" cy="1847.5" r="4.9" fill="#ee2d24" stroke="#000" stroke-width="0.9"/>
<circle cx="178.75" cy="1886.75" r="4.9" fill="#ee2d24" stroke="#000" stroke-width="0.9"/>
<circle cx="178.75" cy="1903.75" r="4.9" fill="#ee2d24" stroke="#000" stroke-width="0.9"/>
<circle cx="178.75" cy="1922.5" r="4.9" fill="#ee2d24" stroke="#000" stroke-width="0.9"/>
<circle cx="178.75" cy="1973" r="4.9" fill="#ee2d24" stroke="#000" stroke-width="0.9"/>
<circle cx="178.75" cy="2016.75" r="4.9" fill="#ee2d24" stroke="#000" stroke-width="0.9"/>
<circle cx="178.75" cy="2101.5" r="4.9" fill="#ee2d24" stroke="#000" stroke-width="0.9"/>
<circle cx="254.25" cy="1854.75" r="4.8" fill="#2cb8de" stroke="#000" stroke-width="0.9"/>
<circle cx="261.25" cy="1858.5" r="4.8" fill="#2cb8de" stroke="#000" stroke-width="0.9"/>
<circle cx="268" cy="1856" r="4.8" fill="#2cb8de" stroke="#000" stroke-width="0.9"/>
<circle cx="274.5" cy="1851.25" r="4.8" fill="#2cb8de" stroke="#000" stroke-width="0.9"/>
<circle cx="268" cy="1867.25" r="4.8" fill="#2cb8de" stroke="#000" stroke-width="0.9"/>
<circle cx="264.5" cy="1889.25" r="4.8" fill="#2cb8de" stroke="#000" stroke-width="0.9"/>
<circle cx="264.5" cy="1948.5" r="4.8" fill="#2cb8de" stroke="#000" stroke-width="0.9"/>
<circle cx="261.25" cy="1980.5" r="4.8" fill="#2cb8de" stroke="#000" stroke-width="0.9"/>
<circle cx="268" cy="1988.5" r="4.8" fill="#2cb8de" stroke="#000" stroke-width="0.9"/>
<circle cx="261.25" cy="1993" r="4.8" fill="#2cb8de" stroke="#000" stroke-width="0.9"/>
<circle cx="268" cy="2000" r="4.8" fill="#2cb8de" stroke="#000" stroke-width="0.9"/>
<circle cx="260.75" cy="2003.75" r="4.8" fill="#2cb8de" stroke="#000" stroke-width="0.9"/>
<circle cx="274.5" cy="2018.5" r="4.8" fill="#2cb8de" stroke="#000" stroke-width="0.9"/>
<circle cx="267.5" cy="2021.75" r="4.8" fill="#2cb8de" stroke="#000" stroke-width="0.9"/>
<circle cx="260.75" cy="2023" r="4.8" fill="#2cb8de" stroke="#000" stroke-width="0.9"/>
<circle cx="264.5" cy="2036.25" r="4.8" fill="#2cb8de" stroke="#000" stroke-width="0.9"/>
<circle cx="260.75" cy="2046.75" r="4.8" fill="#2cb8de" stroke="#000" stroke-width="0.9"/>
<circle cx="274.5" cy="2048" r="4.8" fill="#2cb8de" stroke="#000" stroke-width="0.9"/>
<circle cx="267.5" cy="2054.25" r="4.8" fill="#2cb8de" stroke="#000" stroke-width="0.9"/>
<circle cx="260.75" cy="2056.75" r="4.8" fill="#2cb8de" stroke="#000" stroke-width="0.9"/>
<circle cx="254.25" cy="2062.25" r="4.8" fill="#2cb8de" stroke="#000" stroke-width="0.9"/>
<circle cx="274.5" cy="2063" r="4.8" fill="#2cb8de" stroke="#000" stroke-width="0.9"/>
<circle cx="267.5" cy="2065.5" r="4.8" fill="#2cb8de" stroke="#000" stroke-width="0.9"/>
<circle cx="260.75" cy="2068.75" r="4.8" fill="#2cb8de" stroke="#000" stroke-width="0.9"/>
<circle cx="274.5" cy="2075.5" r="4.8" fill="#2cb8de" stroke="#000" stroke-width="0.9"/>
<circle cx="254.25" cy="2079.75" r="4.8" fill="#2cb8de" stroke="#000" stroke-width="0.9"/>
<circle cx="240.75" cy="2085.5" r="4.8" fill="#2cb8de" stroke="#000" stroke-width="0.9"/>
<circle cx="267.5" cy="2085.5" r="4.8" fill="#2cb8de" stroke="#000" stroke-width="0.9"/>
<circle cx="280.75" cy="2085.5" r="4.8" fill="#2cb8de" stroke="#000" stroke-width="0.9"/>
<circle cx="247.5" cy="2091.75" r="4.8" fill="#2cb8de" stroke="#000" stroke-width="0.9"/>
<circle cx="260.75" cy="2091.75" r="4.8" fill="#2cb8de" stroke="#000" stroke-width="0.9"/>
<circle cx="274.5" cy="2092.25" r="4.8" fill="#2cb8de" stroke="#000" stroke-width="0.9"/>
<circle cx="254.25" cy="2093.75" r="4.8" fill="#2cb8de" stroke="#000" stroke-width="0.9"/>
<circle cx="240.75" cy="2098.5" r="4.8" fill="#2cb8de" stroke="#000" stroke-width="0.9"/>
<circle cx="287.5" cy="2097.25" r="4.8" fill="#2cb8de" stroke="#000" stroke-width="0.9"/>
<circle cx="267.5" cy="2101" r="4.8" fill="#2cb8de" stroke="#000" stroke-width="0.9"/>
<circle cx="280.75" cy="2101" r="4.8" fill="#2cb8de" stroke="#000" stroke-width="0.9"/>
<text x="502.5" y="1701.25" text-anchor="middle" font-size="31.2">Omicron BA.5</text>
<line x1="406.75" y1="1771.75" x2="406.75" y2="2102.32" stroke="#000" stroke-width="2.15"/>
<line x1="393.75" y1="1847.25" x2="406.75" y2="1847.25" stroke="#000" stroke-width="2.15"/>
<text x="388.25" y="1855.56" text-anchor="end" font-size="24.8">100</text>
<line x1="393.75" y1="1974.25" x2="406.75" y2="1974.25" stroke="#000" stroke-width="2.15"/>
<text x="388.25" y="1982.56" text-anchor="end" font-size="24.8">50</text>
<line x1="393.75" y1="2101.25" x2="406.75" y2="2101.25" stroke="#000" stroke-width="2.15"/>
<text x="388.25" y="2109.56" text-anchor="end" font-size="24.8">0</text>
<line x1="393.75" y1="2101.25" x2="605" y2="2101.25" stroke="#000" stroke-width="2.15"/>
<line x1="408.2" y1="2039.25" x2="618" y2="2039.25" stroke="#000" stroke-width="2.5" stroke-linecap="round" stroke-dasharray="0.01 6.9"/>
<path d="M463 2001.75V1824.75H548V1951.75" fill="none" stroke="#404040" stroke-width="1.3"/>
<text x="505.5" y="1823.67" text-anchor="middle" font-weight="bold" font-size="34.5">*</text>
<line x1="462.88" y1="2021" x2="462.88" y2="2035" stroke="#000" stroke-width="1.8"/>
<line x1="462.88" y1="2079.25" x2="462.88" y2="2101.25" stroke="#000" stroke-width="1.8"/>
<line x1="450.38" y1="2021" x2="475.38" y2="2021" stroke="#000" stroke-width="1.8"/>
<line x1="450.38" y1="2101.25" x2="475.38" y2="2101.25" stroke="#000" stroke-width="1.8"/>
<rect x="435" y="2035" width="55.75" height="44.25" fill="none" stroke="#000" stroke-width="1.8"/>
<line x1="435" y1="2055.5" x2="490.75" y2="2055.5" stroke="#000" stroke-width="1.8"/>
<line x1="548.12" y1="1971.25" x2="548.12" y2="2084.25" stroke="#000" stroke-width="1.8"/>
<line x1="548.12" y1="2101.25" x2="548.12" y2="2101.25" stroke="#000" stroke-width="1.8"/>
<line x1="533.33" y1="1971.25" x2="562.92" y2="1971.25" stroke="#000" stroke-width="1.8"/>
<line x1="533.33" y1="2101.25" x2="562.92" y2="2101.25" stroke="#000" stroke-width="1.8"/>
<rect x="520.5" y="2084.25" width="55.25" height="17" fill="none" stroke="#000" stroke-width="1.8"/>
<line x1="520.5" y1="2101.25" x2="575.75" y2="2101.25" stroke="#000" stroke-width="1.8"/>
<circle cx="453" cy="2021.25" r="4.9" fill="#ee2d24" stroke="#000" stroke-width="0.9"/>
<circle cx="473" cy="2030.5" r="4.9" fill="#ee2d24" stroke="#000" stroke-width="0.9"/>
<circle cx="473" cy="2046" r="4.9" fill="#ee2d24" stroke="#000" stroke-width="0.9"/>
<circle cx="453" cy="2054.25" r="4.9" fill="#ee2d24" stroke="#000" stroke-width="0.9"/>
<circle cx="473" cy="2056.75" r="4.9" fill="#ee2d24" stroke="#000" stroke-width="0.9"/>
<circle cx="453" cy="2077.25" r="4.9" fill="#ee2d24" stroke="#000" stroke-width="0.9"/>
<circle cx="473" cy="2081" r="4.9" fill="#ee2d24" stroke="#000" stroke-width="0.9"/>
<circle cx="463" cy="2101.25" r="4.9" fill="#ee2d24" stroke="#000" stroke-width="0.9"/>
<circle cx="548" cy="1971.25" r="4.8" fill="#2cb8de" stroke="#000" stroke-width="0.9"/>
<circle cx="548" cy="1979.75" r="4.8" fill="#2cb8de" stroke="#000" stroke-width="0.9"/>
<circle cx="545.75" cy="2002.5" r="4.8" fill="#2cb8de" stroke="#000" stroke-width="0.9"/>
<circle cx="550.75" cy="2012.25" r="4.8" fill="#2cb8de" stroke="#000" stroke-width="0.9"/>
<circle cx="548" cy="2010" r="4.8" fill="#2cb8de" stroke="#000" stroke-width="0.9"/>
<circle cx="548" cy="2054.75" r="4.8" fill="#2cb8de" stroke="#000" stroke-width="0.9"/>
<circle cx="548" cy="2066.75" r="4.8" fill="#2cb8de" stroke="#000" stroke-width="0.9"/>
<circle cx="548" cy="2074.25" r="4.8" fill="#2cb8de" stroke="#000" stroke-width="0.9"/>
<circle cx="556.25" cy="2082.5" r="4.8" fill="#2cb8de" stroke="#000" stroke-width="0.9"/>
<circle cx="549.25" cy="2083.5" r="4.8" fill="#2cb8de" stroke="#000" stroke-width="0.9"/>
<circle cx="527" cy="2092.25" r="4.8" fill="#2cb8de" stroke="#000" stroke-width="0.9"/>
<circle cx="534.25" cy="2092.25" r="4.8" fill="#2cb8de" stroke="#000" stroke-width="0.9"/>
<circle cx="541.25" cy="2090.5" r="4.8" fill="#2cb8de" stroke="#000" stroke-width="0.9"/>
<circle cx="555" cy="2090.5" r="4.8" fill="#2cb8de" stroke="#000" stroke-width="0.9"/>
<circle cx="566.25" cy="2092.25" r="4.8" fill="#2cb8de" stroke="#000" stroke-width="0.9"/>
<circle cx="559.25" cy="2093" r="4.8" fill="#2cb8de" stroke="#000" stroke-width="0.9"/>
<circle cx="523.75" cy="2099.25" r="4.8" fill="#2cb8de" stroke="#000" stroke-width="0.9"/>
<circle cx="571.25" cy="2096.75" r="4.8" fill="#2cb8de" stroke="#000" stroke-width="0.9"/>
<circle cx="548" cy="2097.25" r="4.8" fill="#2cb8de" stroke="#000" stroke-width="0.9"/>
<circle cx="527.5" cy="2101.25" r="4.8" fill="#2cb8de" stroke="#000" stroke-width="0.9"/>
<circle cx="534.25" cy="2101.25" r="4.8" fill="#2cb8de" stroke="#000" stroke-width="0.9"/>
<circle cx="541.25" cy="2101.25" r="4.8" fill="#2cb8de" stroke="#000" stroke-width="0.9"/>
<circle cx="552.5" cy="2101.25" r="4.8" fill="#2cb8de" stroke="#000" stroke-width="0.9"/>
<circle cx="561.75" cy="2101.25" r="4.8" fill="#2cb8de" stroke="#000" stroke-width="0.9"/>
<circle cx="568.75" cy="2101.25" r="4.8" fill="#2cb8de" stroke="#000" stroke-width="0.9"/>
<circle cx="628.25" cy="1893" r="5.2" fill="#ee2d24" stroke="#000" stroke-width="0.9"/>
<text x="645.5" y="1901.25" font-size="23.8">pSOTR (waning)</text>
<circle cx="628.25" cy="1928" r="5.2" fill="#2cb8de" stroke="#000" stroke-width="0.9"/>
<text x="645.5" y="1934.75" font-size="23.8">adult SOTR</text>
<text x="645.5" y="1963.75" font-size="23.8">at peak</text>
<text x="1069" y="1703" text-anchor="middle" font-size="30.4">pSOTR monovalent</text>
<text x="1069.6" y="1740.5" text-anchor="middle" textLength="116.75" lengthAdjust="spacingAndGlyphs" font-size="30">(waning)</text>
<line x1="951.75" y1="1763" x2="951.75" y2="2100.82" stroke="#000" stroke-width="2.15"/>
<line x1="938.25" y1="1839.75" x2="951.75" y2="1839.75" stroke="#000" stroke-width="2.15"/>
<text x="936.25" y="1848.69" text-anchor="end" font-size="26.7">100</text>
<line x1="938.25" y1="1969.75" x2="951.75" y2="1969.75" stroke="#000" stroke-width="2.15"/>
<text x="936.25" y="1978.69" text-anchor="end" font-size="26.7">50</text>
<line x1="938.25" y1="2099.75" x2="951.75" y2="2099.75" stroke="#000" stroke-width="2.15"/>
<text x="936.25" y="2108.69" text-anchor="end" font-size="26.7">0</text>
<line x1="938.25" y1="2099.75" x2="1176.25" y2="2099.75" stroke="#000" stroke-width="2.15"/>
<line x1="1015.5" y1="2099.75" x2="1015.5" y2="2113" stroke="#000" stroke-width="2.15"/>
<line x1="1111.5" y1="2099.75" x2="1111.5" y2="2113" stroke="#000" stroke-width="2.15"/>
<text x="1015.5" y="2140.5" text-anchor="middle" font-size="26.7">AN</text>
<text x="1112.5" y="2140.5" text-anchor="middle" font-size="26.7">BA.5</text>
<text text-anchor="middle" transform="translate(874 1933.6) rotate(-90)" font-size="26.8">% ACE2 inhibition</text>
<line x1="951.3" y1="2034.75" x2="1176" y2="2034.75" stroke="#000" stroke-width="3.1" stroke-linecap="round" stroke-dasharray="0.01 6.76"/>
<path d="M1015.5 1819.25V1799.25H1111.5V1996.75" fill="none" stroke="#404040" stroke-width="1.3"/>
<text x="1063.75" y="1798.17" text-anchor="middle" font-weight="bold" font-size="34.5">*</text>
<line x1="1015.3" y1="1840.3" x2="1111.5" y2="2017.8" stroke="#000" stroke-width="1.25"/>
<line x1="1015.3" y1="1845.4" x2="1111.5" y2="2043.3" stroke="#000" stroke-width="1.25"/>
<line x1="1015.3" y1="1880.4" x2="1111.5" y2="2075.1" stroke="#000" stroke-width="1.25"/>
<line x1="1015.3" y1="1897.9" x2="1111.5" y2="2027.7" stroke="#000" stroke-width="1.25"/>
<line x1="1015.3" y1="1917.2" x2="1111.5" y2="2051.8" stroke="#000" stroke-width="1.25"/>
<line x1="1015.3" y1="1917.2" x2="1111.5" y2="2054.3" stroke="#000" stroke-width="1.25"/>
<line x1="1015.3" y1="1969.1" x2="1111.5" y2="2043.3" stroke="#000" stroke-width="1.25"/>
<line x1="1015.3" y1="2013.4" x2="1111.5" y2="2079.1" stroke="#000" stroke-width="1.25"/>
<line x1="1015.3" y1="2099.8" x2="1111.5" y2="2099.8" stroke="#000" stroke-width="1.25"/>
<circle cx="1015.3" cy="1840.3" r="5" fill="#ee2d24" stroke="#000" stroke-width="0.9"/>
<circle cx="1111.5" cy="2017.8" r="5" fill="#ee2d24" stroke="#000" stroke-width="0.9"/>
<circle cx="1015.3" cy="1845.4" r="5" fill="#ee2d24" stroke="#000" stroke-width="0.9"/>
<circle cx="1111.5" cy="2043.3" r="5" fill="#ee2d24" stroke="#000" stroke-width="0.9"/>
<circle cx="1015.3" cy="1880.4" r="5" fill="#ee2d24" stroke="#000" stroke-width="0.9"/>
<circle cx="1111.5" cy="2075.1" r="5" fill="#ee2d24" stroke="#000" stroke-width="0.9"/>
<circle cx="1015.3" cy="1897.9" r="5" fill="#ee2d24" stroke="#000" stroke-width="0.9"/>
<circle cx="1111.5" cy="2027.7" r="5" fill="#ee2d24" stroke="#000" stroke-width="0.9"/>
<circle cx="1015.3" cy="1917.2" r="5" fill="#ee2d24" stroke="#000" stroke-width="0.9"/>
<circle cx="1111.5" cy="2051.8" r="5" fill="#ee2d24" stroke="#000" stroke-width="0.9"/>
<circle cx="1015.3" cy="1917.2" r="5" fill="#ee2d24" stroke="#000" stroke-width="0.9"/>
<circle cx="1111.5" cy="2054.3" r="5" fill="#ee2d24" stroke="#000" stroke-width="0.9"/>
<circle cx="1015.3" cy="1969.1" r="5" fill="#ee2d24" stroke="#000" stroke-width="0.9"/>
<circle cx="1111.5" cy="2043.3" r="5" fill="#ee2d24" stroke="#000" stroke-width="0.9"/>
<circle cx="1015.3" cy="2013.4" r="5" fill="#ee2d24" stroke="#000" stroke-width="0.9"/>
<circle cx="1111.5" cy="2079.1" r="5" fill="#ee2d24" stroke="#000" stroke-width="0.9"/>
<circle cx="1015.3" cy="2099.8" r="5" fill="#ee2d24" stroke="#000" stroke-width="0.9"/>
<circle cx="1111.5" cy="2099.8" r="5" fill="#ee2d24" stroke="#000" stroke-width="0.9"/>
<text x="1350.6" y="1703.75" text-anchor="middle" font-size="30">Adult SOTR</text>
<text x="1351" y="1741" text-anchor="middle" textLength="237.5" lengthAdjust="spacingAndGlyphs" font-size="30">(peak responses)</text>
<line x1="1251" y1="1762.5" x2="1251" y2="2100.82" stroke="#000" stroke-width="2.15"/>
<line x1="1237.5" y1="1839.75" x2="1251" y2="1839.75" stroke="#000" stroke-width="2.15"/>
<text x="1235.5" y="1848.69" text-anchor="end" font-size="26.7">100</text>
<line x1="1237.5" y1="1969.75" x2="1251" y2="1969.75" stroke="#000" stroke-width="2.15"/>
<text x="1235.5" y="1978.69" text-anchor="end" font-size="26.7">50</text>
<line x1="1237.5" y1="2099.75" x2="1251" y2="2099.75" stroke="#000" stroke-width="2.15"/>
<text x="1235.5" y="2108.69" text-anchor="end" font-size="26.7">0</text>
<line x1="1237.5" y1="2099.75" x2="1475.75" y2="2099.75" stroke="#000" stroke-width="2.15"/>
<line x1="1315" y1="2099.75" x2="1315" y2="2113" stroke="#000" stroke-width="2.15"/>
<line x1="1411.75" y1="2099.75" x2="1411.75" y2="2113" stroke="#000" stroke-width="2.15"/>
<text x="1315.5" y="2140.5" text-anchor="middle" font-size="26.7">AN</text>
<text x="1412.5" y="2140.5" text-anchor="middle" font-size="26.7">BA.5</text>
<line x1="1250.8" y1="2034.75" x2="1476" y2="2034.75" stroke="#000" stroke-width="3.1" stroke-linecap="round" stroke-dasharray="0.01 6.76"/>
<path d="M1315 1824.25V1804.25H1411.75V1946.75" fill="none" stroke="#404040" stroke-width="1.3"/>
<text x="1363.75" y="1803.17" text-anchor="middle" font-weight="bold" font-size="34.5">****</text>
<line x1="1314.9" y1="1843.2" x2="1411.5" y2="1966.2" stroke="#000" stroke-width="1.25"/>
<line x1="1314.9" y1="1848.3" x2="1411.5" y2="1975.5" stroke="#000" stroke-width="1.25"/>
<line x1="1314.9" y1="1852" x2="1411.5" y2="1998.9" stroke="#000" stroke-width="1.25"/>
<line x1="1314.9" y1="1852" x2="1411.5" y2="2008" stroke="#000" stroke-width="1.25"/>
<line x1="1314.9" y1="1860" x2="1411.5" y2="2005.9" stroke="#000" stroke-width="1.25"/>
<line x1="1314.9" y1="1883.3" x2="1411.5" y2="2092" stroke="#000" stroke-width="1.25"/>
<line x1="1314.9" y1="1943.4" x2="1411.5" y2="2087" stroke="#000" stroke-width="1.25"/>
<line x1="1314.9" y1="1976.4" x2="1411.5" y2="2091.9" stroke="#000" stroke-width="1.25"/>
<line x1="1314.9" y1="1984.7" x2="1411.5" y2="2095.6" stroke="#000" stroke-width="1.25"/>
<line x1="1314.9" y1="1989.1" x2="1411.5" y2="2081.7" stroke="#000" stroke-width="1.25"/>
<line x1="1314.9" y1="1997.1" x2="1411.5" y2="2095.6" stroke="#000" stroke-width="1.25"/>
<line x1="1314.9" y1="1999.3" x2="1411.5" y2="2099.2" stroke="#000" stroke-width="1.25"/>
<line x1="1314.9" y1="2014.2" x2="1411.5" y2="2072.2" stroke="#000" stroke-width="1.25"/>
<line x1="1314.9" y1="2019.7" x2="1411.5" y2="2091.9" stroke="#000" stroke-width="1.25"/>
<line x1="1314.9" y1="2033.6" x2="1411.5" y2="2064.2" stroke="#000" stroke-width="1.25"/>
<line x1="1314.9" y1="2043.8" x2="1411.5" y2="2095.6" stroke="#000" stroke-width="1.25"/>
<line x1="1314.9" y1="2043.8" x2="1411.5" y2="2081.7" stroke="#000" stroke-width="1.25"/>
<line x1="1314.9" y1="2051.8" x2="1411.5" y2="2099.2" stroke="#000" stroke-width="1.25"/>
<line x1="1314.9" y1="2051.8" x2="1411.5" y2="2091.9" stroke="#000" stroke-width="1.25"/>
<line x1="1314.9" y1="2059.8" x2="1411.5" y2="2052.1" stroke="#000" stroke-width="1.25"/>
<line x1="1314.9" y1="2064.9" x2="1411.5" y2="2095.6" stroke="#000" stroke-width="1.25"/>
<line x1="1314.9" y1="2064.9" x2="1411.5" y2="2099.2" stroke="#000" stroke-width="1.25"/>
<line x1="1314.9" y1="2073" x2="1411.5" y2="2091.9" stroke="#000" stroke-width="1.25"/>
<line x1="1314.9" y1="2073" x2="1411.5" y2="2099.2" stroke="#000" stroke-width="1.25"/>
<line x1="1314.9" y1="2083.2" x2="1411.5" y2="2095.6" stroke="#000" stroke-width="1.25"/>
<line x1="1314.9" y1="2083.2" x2="1411.5" y2="2099.2" stroke="#000" stroke-width="1.25"/>
<line x1="1314.9" y1="2091.9" x2="1411.5" y2="2099.2" stroke="#000" stroke-width="1.25"/>
<line x1="1314.9" y1="2095.6" x2="1411.5" y2="2099.2" stroke="#000" stroke-width="1.25"/>
<line x1="1314.9" y1="2099.2" x2="1411.5" y2="2099.2" stroke="#000" stroke-width="1.25"/>
<line x1="1314.9" y1="2033.6" x2="1411.5" y2="2099.2" stroke="#000" stroke-width="1.25"/>
<line x1="1314.9" y1="2019.7" x2="1411.5" y2="2097" stroke="#000" stroke-width="1.25"/>
<line x1="1314.9" y1="1999.3" x2="1411.5" y2="2090" stroke="#000" stroke-width="1.25"/>
<line x1="1314.9" y1="1989.1" x2="1411.5" y2="2099.2" stroke="#000" stroke-width="1.25"/>
<line x1="1314.9" y1="2059.8" x2="1411.5" y2="2098" stroke="#000" stroke-width="1.25"/>
<line x1="1314.9" y1="2091.9" x2="1411.5" y2="2096" stroke="#000" stroke-width="1.25"/>
<circle cx="1314.9" cy="1843.2" r="5" fill="#2cb8de" stroke="#000" stroke-width="0.9"/>
<circle cx="1411.5" cy="1966.2" r="5" fill="#2cb8de" stroke="#000" stroke-width="0.9"/>
<circle cx="1314.9" cy="1848.3" r="5" fill="#2cb8de" stroke="#000" stroke-width="0.9"/>
<circle cx="1411.5" cy="1975.5" r="5" fill="#2cb8de" stroke="#000" stroke-width="0.9"/>
<circle cx="1314.9" cy="1852" r="5" fill="#2cb8de" stroke="#000" stroke-width="0.9"/>
<circle cx="1411.5" cy="1998.9" r="5" fill="#2cb8de" stroke="#000" stroke-width="0.9"/>
<circle cx="1314.9" cy="1852" r="5" fill="#2cb8de" stroke="#000" stroke-width="0.9"/>
<circle cx="1411.5" cy="2008" r="5" fill="#2cb8de" stroke="#000" stroke-width="0.9"/>
<circle cx="1314.9" cy="1860" r="5" fill="#2cb8de" stroke="#000" stroke-width="0.9"/>
<circle cx="1411.5" cy="2005.9" r="5" fill="#2cb8de" stroke="#000" stroke-width="0.9"/>
<circle cx="1314.9" cy="1883.3" r="5" fill="#2cb8de" stroke="#000" stroke-width="0.9"/>
<circle cx="1411.5" cy="2092" r="5" fill="#2cb8de" stroke="#000" stroke-width="0.9"/>
<circle cx="1314.9" cy="1943.4" r="5" fill="#2cb8de" stroke="#000" stroke-width="0.9"/>
<circle cx="1411.5" cy="2087" r="5" fill="#2cb8de" stroke="#000" stroke-width="0.9"/>
<circle cx="1314.9" cy="1976.4" r="5" fill="#2cb8de" stroke="#000" stroke-width="0.9"/>
<circle cx="1411.5" cy="2091.9" r="5" fill="#2cb8de" stroke="#000" stroke-width="0.9"/>
<circle cx="1314.9" cy="1984.7" r="5" fill="#2cb8de" stroke="#000" stroke-width="0.9"/>
<circle cx="1411.5" cy="2095.6" r="5" fill="#2cb8de" stroke="#000" stroke-width="0.9"/>
<circle cx="1314.9" cy="1989.1" r="5" fill="#2cb8de" stroke="#000" stroke-width="0.9"/>
<circle cx="1411.5" cy="2081.7" r="5" fill="#2cb8de" stroke="#000" stroke-width="0.9"/>
<circle cx="1314.9" cy="1997.1" r="5" fill="#2cb8de" stroke="#000" stroke-width="0.9"/>
<circle cx="1411.5" cy="2095.6" r="5" fill="#2cb8de" stroke="#000" stroke-width="0.9"/>
<circle cx="1314.9" cy="1999.3" r="5" fill="#2cb8de" stroke="#000" stroke-width="0.9"/>
<circle cx="1411.5" cy="2099.2" r="5" fill="#2cb8de" stroke="#000" stroke-width="0.9"/>
<circle cx="1314.9" cy="2014.2" r="5" fill="#2cb8de" stroke="#000" stroke-width="0.9"/>
<circle cx="1411.5" cy="2072.2" r="5" fill="#2cb8de" stroke="#000" stroke-width="0.9"/>
<circle cx="1314.9" cy="2019.7" r="5" fill="#2cb8de" stroke="#000" stroke-width="0.9"/>
<circle cx="1411.5" cy="2091.9" r="5" fill="#2cb8de" stroke="#000" stroke-width="0.9"/>
<circle cx="1314.9" cy="2033.6" r="5" fill="#2cb8de" stroke="#000" stroke-width="0.9"/>
<circle cx="1411.5" cy="2064.2" r="5" fill="#2cb8de" stroke="#000" stroke-width="0.9"/>
<circle cx="1314.9" cy="2043.8" r="5" fill="#2cb8de" stroke="#000" stroke-width="0.9"/>
<circle cx="1411.5" cy="2095.6" r="5" fill="#2cb8de" stroke="#000" stroke-width="0.9"/>
<circle cx="1314.9" cy="2043.8" r="5" fill="#2cb8de" stroke="#000" stroke-width="0.9"/>
<circle cx="1411.5" cy="2081.7" r="5" fill="#2cb8de" stroke="#000" stroke-width="0.9"/>
<circle cx="1314.9" cy="2051.8" r="5" fill="#2cb8de" stroke="#000" stroke-width="0.9"/>
<circle cx="1411.5" cy="2099.2" r="5" fill="#2cb8de" stroke="#000" stroke-width="0.9"/>
<circle cx="1314.9" cy="2051.8" r="5" fill="#2cb8de" stroke="#000" stroke-width="0.9"/>
<circle cx="1411.5" cy="2091.9" r="5" fill="#2cb8de" stroke="#000" stroke-width="0.9"/>
<circle cx="1314.9" cy="2059.8" r="5" fill="#2cb8de" stroke="#000" stroke-width="0.9"/>
<circle cx="1411.5" cy="2052.1" r="5" fill="#2cb8de" stroke="#000" stroke-width="0.9"/>
<circle cx="1314.9" cy="2064.9" r="5" fill="#2cb8de" stroke="#000" stroke-width="0.9"/>
<circle cx="1411.5" cy="2095.6" r="5" fill="#2cb8de" stroke="#000" stroke-width="0.9"/>
<circle cx="1314.9" cy="2064.9" r="5" fill="#2cb8de" stroke="#000" stroke-width="0.9"/>
<circle cx="1411.5" cy="2099.2" r="5" fill="#2cb8de" stroke="#000" stroke-width="0.9"/>
<circle cx="1314.9" cy="2073" r="5" fill="#2cb8de" stroke="#000" stroke-width="0.9"/>
<circle cx="1411.5" cy="2091.9" r="5" fill="#2cb8de" stroke="#000" stroke-width="0.9"/>
<circle cx="1314.9" cy="2073" r="5" fill="#2cb8de" stroke="#000" stroke-width="0.9"/>
<circle cx="1411.5" cy="2099.2" r="5" fill="#2cb8de" stroke="#000" stroke-width="0.9"/>
<circle cx="1314.9" cy="2083.2" r="5" fill="#2cb8de" stroke="#000" stroke-width="0.9"/>
<circle cx="1411.5" cy="2095.6" r="5" fill="#2cb8de" stroke="#000" stroke-width="0.9"/>
<circle cx="1314.9" cy="2083.2" r="5" fill="#2cb8de" stroke="#000" stroke-width="0.9"/>
<circle cx="1411.5" cy="2099.2" r="5" fill="#2cb8de" stroke="#000" stroke-width="0.9"/>
<circle cx="1314.9" cy="2091.9" r="5" fill="#2cb8de" stroke="#000" stroke-width="0.9"/>
<circle cx="1411.5" cy="2099.2" r="5" fill="#2cb8de" stroke="#000" stroke-width="0.9"/>
<circle cx="1314.9" cy="2095.6" r="5" fill="#2cb8de" stroke="#000" stroke-width="0.9"/>
<circle cx="1411.5" cy="2099.2" r="5" fill="#2cb8de" stroke="#000" stroke-width="0.9"/>
<circle cx="1314.9" cy="2099.2" r="5" fill="#2cb8de" stroke="#000" stroke-width="0.9"/>
<circle cx="1411.5" cy="2099.2" r="5" fill="#2cb8de" stroke="#000" stroke-width="0.9"/>
<circle cx="1314.9" cy="2033.6" r="5" fill="#2cb8de" stroke="#000" stroke-width="0.9"/>
<circle cx="1411.5" cy="2099.2" r="5" fill="#2cb8de" stroke="#000" stroke-width="0.9"/>
<circle cx="1314.9" cy="2019.7" r="5" fill="#2cb8de" stroke="#000" stroke-width="0.9"/>
<circle cx="1411.5" cy="2097" r="5" fill="#2cb8de" stroke="#000" stroke-width="0.9"/>
<circle cx="1314.9" cy="1999.3" r="5" fill="#2cb8de" stroke="#000" stroke-width="0.9"/>
<circle cx="1411.5" cy="2090" r="5" fill="#2cb8de" stroke="#000" stroke-width="0.9"/>
<circle cx="1314.9" cy="1989.1" r="5" fill="#2cb8de" stroke="#000" stroke-width="0.9"/>
<circle cx="1411.5" cy="2099.2" r="5" fill="#2cb8de" stroke="#000" stroke-width="0.9"/>
<circle cx="1314.9" cy="2059.8" r="5" fill="#2cb8de" stroke="#000" stroke-width="0.9"/>
<circle cx="1411.5" cy="2098" r="5" fill="#2cb8de" stroke="#000" stroke-width="0.9"/>
<circle cx="1314.9" cy="2091.9" r="5" fill="#2cb8de" stroke="#000" stroke-width="0.9"/>
<circle cx="1411.5" cy="2096" r="5" fill="#2cb8de" stroke="#000" stroke-width="0.9"/>
</svg>
</body></html>
